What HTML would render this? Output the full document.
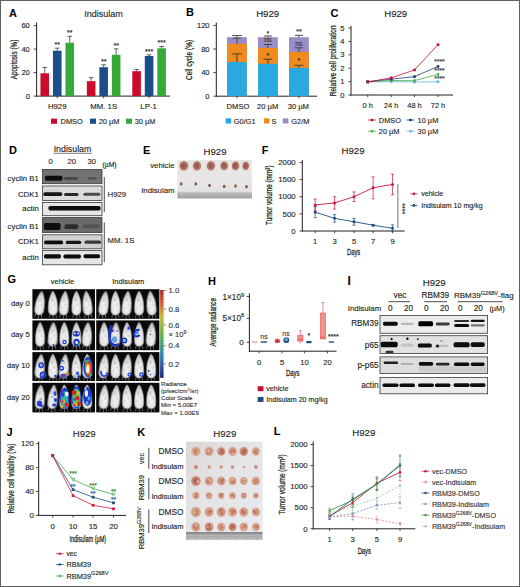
<!DOCTYPE html>
<html><head><meta charset="utf-8"><style>
html,body{margin:0;padding:0;background:#fff;width:520px;height:587px;overflow:hidden}
svg{display:block;font-family:"Liberation Sans",sans-serif}
</style></head><body>
<svg width="520" height="587" viewBox="0 0 520 587">
<defs>
<filter id="b1" x="-50%" y="-50%" width="200%" height="200%"><feGaussianBlur stdDeviation="0.75"/></filter>
<filter id="b2" x="-50%" y="-50%" width="200%" height="200%"><feGaussianBlur stdDeviation="1"/></filter>
<filter id="b3" x="-50%" y="-50%" width="200%" height="200%"><feGaussianBlur stdDeviation="0.4"/></filter>
<linearGradient id="eg" x1="0" y1="0" x2="0" y2="1"><stop offset="0" stop-color="#e6e4e4"/><stop offset="0.5" stop-color="#e8e6e6"/><stop offset="1" stop-color="#e0e0e2"/></linearGradient><linearGradient id="rg" x1="0" y1="0" x2="0" y2="1"><stop offset="0" stop-color="#cacacc"/><stop offset="0.4" stop-color="#b0b0b2"/><stop offset="1" stop-color="#9c9c9e"/></linearGradient><radialGradient id="tum" cx="0.45" cy="0.45" r="0.55"><stop offset="0" stop-color="#8e5048"/><stop offset="0.4" stop-color="#9e6454"/><stop offset="0.72" stop-color="#b48070"/><stop offset="0.88" stop-color="#d8c0b6"/><stop offset="1" stop-color="#ece6e4"/></radialGradient><radialGradient id="tum2" cx="0.5" cy="0.5" r="0.55"><stop offset="0" stop-color="#c47e66"/><stop offset="0.5" stop-color="#ce947c"/><stop offset="0.85" stop-color="#dcb4a2"/><stop offset="1" stop-color="#e6d4cc"/></radialGradient><radialGradient id="tum3" cx="0.5" cy="0.5" r="0.55"><stop offset="0" stop-color="#a85450"/><stop offset="0.5" stop-color="#bc7460"/><stop offset="0.85" stop-color="#d6a890"/><stop offset="1" stop-color="#e6d4c8"/></radialGradient><radialGradient id="mg" cx="0.5" cy="0.62" r="0.6"><stop offset="0" stop-color="#f6f6f6"/><stop offset="0.6" stop-color="#e4e4e4"/><stop offset="1" stop-color="#b0b0b0"/></radialGradient><linearGradient id="cb" x1="0" y1="0" x2="0" y2="1"><stop offset="0" stop-color="#b02828"/><stop offset="0.15" stop-color="#d06030"/><stop offset="0.3" stop-color="#c8b438"/><stop offset="0.45" stop-color="#80b840"/><stop offset="0.6" stop-color="#48a870"/><stop offset="0.75" stop-color="#3080b8"/><stop offset="0.9" stop-color="#2848a0"/><stop offset="1" stop-color="#1c1c6c"/></linearGradient><linearGradient id="kg" x1="0" y1="0" x2="1" y2="1"><stop offset="0" stop-color="#dcd6d6"/><stop offset="0.4" stop-color="#e4e4e6"/><stop offset="1" stop-color="#e8eaee"/></linearGradient>
</defs>
<rect width="520" height="587" fill="#fff"/>
<text x="9.00" y="16.60" font-size="11" text-anchor="start" fill="#000" font-weight="bold" >A</text>
<text x="103.50" y="17.00" font-size="9" text-anchor="middle" fill="#231f20" stroke="#231f20" stroke-width="0.13" >Indisulam</text>
<line x1="36.60" y1="22.50" x2="36.60" y2="96.60" stroke="#231f20" stroke-width="1" />
<line x1="36.20" y1="96.10" x2="170.00" y2="96.10" stroke="#231f20" stroke-width="1" />
<line x1="33.60" y1="96.10" x2="36.60" y2="96.10" stroke="#231f20" stroke-width="0.8" />
<text x="29.80" y="98.60" font-size="7.5" text-anchor="end" fill="#231f20" stroke="#231f20" stroke-width="0.13" >0</text>
<line x1="33.60" y1="72.60" x2="36.60" y2="72.60" stroke="#231f20" stroke-width="0.8" />
<text x="29.80" y="75.10" font-size="7.5" text-anchor="end" fill="#231f20" stroke="#231f20" stroke-width="0.13" >20</text>
<line x1="33.60" y1="49.10" x2="36.60" y2="49.10" stroke="#231f20" stroke-width="0.8" />
<text x="29.80" y="51.60" font-size="7.5" text-anchor="end" fill="#231f20" stroke="#231f20" stroke-width="0.13" >40</text>
<line x1="33.60" y1="25.60" x2="36.60" y2="25.60" stroke="#231f20" stroke-width="0.8" />
<text x="29.80" y="28.10" font-size="7.5" text-anchor="end" fill="#231f20" stroke="#231f20" stroke-width="0.13" >60</text>
<text x="16.60" y="59.50" font-size="8.8" text-anchor="middle" fill="#231f20" stroke="#231f20" stroke-width="0.26" textLength="39.5" lengthAdjust="spacingAndGlyphs" transform="rotate(-90 16.60 59.50)" >Apoptosis (%)</text>
<line x1="44.75" y1="73.30" x2="44.75" y2="67.43" stroke="#505050" stroke-width="0.9" />
<line x1="42.45" y1="67.43" x2="47.05" y2="67.43" stroke="#505050" stroke-width="0.9" />
<rect x="40.45" y="73.30" width="8.60" height="22.80" fill="#cc0a2c" />
<line x1="57.25" y1="50.74" x2="57.25" y2="48.16" stroke="#505050" stroke-width="0.9" />
<line x1="54.95" y1="48.16" x2="59.55" y2="48.16" stroke="#505050" stroke-width="0.9" />
<rect x="52.95" y="50.74" width="8.60" height="45.36" fill="#1c4f8a" />
<text x="57.25" y="46.96" font-size="7" text-anchor="middle" fill="#231f20" stroke="#231f20" stroke-width="0.13" >**</text>
<line x1="69.75" y1="42.75" x2="69.75" y2="36.29" stroke="#505050" stroke-width="0.9" />
<line x1="67.45" y1="36.29" x2="72.05" y2="36.29" stroke="#505050" stroke-width="0.9" />
<rect x="65.45" y="42.75" width="8.60" height="53.34" fill="#36a938" />
<text x="69.75" y="35.09" font-size="7" text-anchor="middle" fill="#231f20" stroke="#231f20" stroke-width="0.13" >**</text>
<line x1="57.25" y1="96.10" x2="57.25" y2="98.30" stroke="#231f20" stroke-width="0.8" />
<line x1="91.15" y1="81.18" x2="91.15" y2="77.65" stroke="#505050" stroke-width="0.9" />
<line x1="88.85" y1="77.65" x2="93.45" y2="77.65" stroke="#505050" stroke-width="0.9" />
<rect x="86.85" y="81.18" width="8.60" height="14.92" fill="#cc0a2c" />
<line x1="103.65" y1="67.19" x2="103.65" y2="64.84" stroke="#505050" stroke-width="0.9" />
<line x1="101.35" y1="64.84" x2="105.95" y2="64.84" stroke="#505050" stroke-width="0.9" />
<rect x="99.35" y="67.19" width="8.60" height="28.91" fill="#1c4f8a" />
<text x="103.65" y="63.64" font-size="7" text-anchor="middle" fill="#231f20" stroke="#231f20" stroke-width="0.13" >**</text>
<line x1="116.15" y1="54.74" x2="116.15" y2="48.86" stroke="#505050" stroke-width="0.9" />
<line x1="113.85" y1="48.86" x2="118.45" y2="48.86" stroke="#505050" stroke-width="0.9" />
<rect x="111.85" y="54.74" width="8.60" height="41.36" fill="#36a938" />
<text x="116.15" y="47.66" font-size="7" text-anchor="middle" fill="#231f20" stroke="#231f20" stroke-width="0.13" >**</text>
<line x1="103.65" y1="96.10" x2="103.65" y2="98.30" stroke="#231f20" stroke-width="0.8" />
<line x1="136.60" y1="71.19" x2="136.60" y2="69.43" stroke="#505050" stroke-width="0.9" />
<line x1="134.30" y1="69.43" x2="138.90" y2="69.43" stroke="#505050" stroke-width="0.9" />
<rect x="132.30" y="71.19" width="8.60" height="24.91" fill="#cc0a2c" />
<line x1="149.10" y1="56.03" x2="149.10" y2="54.86" stroke="#505050" stroke-width="0.9" />
<line x1="146.80" y1="54.86" x2="151.40" y2="54.86" stroke="#505050" stroke-width="0.9" />
<rect x="144.80" y="56.03" width="8.60" height="40.07" fill="#1c4f8a" />
<text x="149.10" y="53.66" font-size="7" text-anchor="middle" fill="#231f20" stroke="#231f20" stroke-width="0.13" >***</text>
<line x1="161.60" y1="48.28" x2="161.60" y2="46.51" stroke="#505050" stroke-width="0.9" />
<line x1="159.30" y1="46.51" x2="163.90" y2="46.51" stroke="#505050" stroke-width="0.9" />
<rect x="157.30" y="48.28" width="8.60" height="47.82" fill="#36a938" />
<text x="161.60" y="45.31" font-size="7" text-anchor="middle" fill="#231f20" stroke="#231f20" stroke-width="0.13" >***</text>
<line x1="149.10" y1="96.10" x2="149.10" y2="98.30" stroke="#231f20" stroke-width="0.8" />
<text x="57.20" y="108.50" font-size="7.8" text-anchor="middle" fill="#231f20" stroke="#231f20" stroke-width="0.13" >H929</text>
<text x="103.70" y="108.50" font-size="7.8" text-anchor="middle" fill="#231f20" stroke="#231f20" stroke-width="0.13" >MM. 1S</text>
<text x="148.60" y="108.50" font-size="7.8" text-anchor="middle" fill="#231f20" stroke="#231f20" stroke-width="0.13" >LP-1</text>
<rect x="51.00" y="118.60" width="6.00" height="5.20" fill="#cc0a2c" />
<text x="60.60" y="123.80" font-size="7.4" text-anchor="start" fill="#231f20" stroke="#231f20" stroke-width="0.13" >DMSO</text>
<rect x="90.00" y="118.60" width="6.00" height="5.20" fill="#1c4f8a" />
<text x="98.70" y="123.80" font-size="7.4" text-anchor="start" fill="#231f20" stroke="#231f20" stroke-width="0.13" >20 µM</text>
<rect x="126.00" y="118.60" width="6.00" height="5.20" fill="#36a938" />
<text x="134.70" y="123.80" font-size="7.4" text-anchor="start" fill="#231f20" stroke="#231f20" stroke-width="0.13" >30 µM</text>
<text x="185.90" y="16.40" font-size="11" text-anchor="start" fill="#000" font-weight="bold" >B</text>
<text x="267.60" y="16.80" font-size="9.6" text-anchor="middle" fill="#231f20" stroke="#231f20" stroke-width="0.13" >H929</text>
<line x1="216.30" y1="22.50" x2="216.30" y2="96.70" stroke="#231f20" stroke-width="1" />
<line x1="215.90" y1="96.20" x2="317.00" y2="96.20" stroke="#231f20" stroke-width="1" />
<line x1="213.30" y1="96.20" x2="216.30" y2="96.20" stroke="#231f20" stroke-width="0.8" />
<text x="209.50" y="98.70" font-size="7.5" text-anchor="end" fill="#231f20" stroke="#231f20" stroke-width="0.13" >0</text>
<line x1="213.30" y1="72.60" x2="216.30" y2="72.60" stroke="#231f20" stroke-width="0.8" />
<text x="209.50" y="75.10" font-size="7.5" text-anchor="end" fill="#231f20" stroke="#231f20" stroke-width="0.13" >40</text>
<line x1="213.30" y1="49.00" x2="216.30" y2="49.00" stroke="#231f20" stroke-width="0.8" />
<text x="209.50" y="51.50" font-size="7.5" text-anchor="end" fill="#231f20" stroke="#231f20" stroke-width="0.13" >80</text>
<line x1="213.30" y1="25.40" x2="216.30" y2="25.40" stroke="#231f20" stroke-width="0.8" />
<text x="209.50" y="27.90" font-size="7.5" text-anchor="end" fill="#231f20" stroke="#231f20" stroke-width="0.13" >120</text>
<text x="191.80" y="59.90" font-size="8.8" text-anchor="middle" fill="#231f20" stroke="#231f20" stroke-width="0.26" textLength="40.2" lengthAdjust="spacingAndGlyphs" transform="rotate(-90 191.80 59.90)" >Cell cycle (%)</text>
<rect x="227.00" y="37.20" width="19.80" height="59.00" fill="#9a8cc6" />
<rect x="227.00" y="43.69" width="19.80" height="52.51" fill="#f08a1d" />
<rect x="227.00" y="61.98" width="19.80" height="34.22" fill="#2aa8e0" />
<line x1="236.90" y1="96.20" x2="236.90" y2="98.40" stroke="#231f20" stroke-width="0.8" />
<rect x="258.00" y="37.20" width="19.80" height="59.00" fill="#9a8cc6" />
<rect x="258.00" y="47.82" width="19.80" height="48.38" fill="#f08a1d" />
<rect x="258.00" y="63.75" width="19.80" height="32.45" fill="#2aa8e0" />
<line x1="267.90" y1="96.20" x2="267.90" y2="98.40" stroke="#231f20" stroke-width="0.8" />
<rect x="289.00" y="37.20" width="19.80" height="59.00" fill="#9a8cc6" />
<rect x="289.00" y="51.95" width="19.80" height="44.25" fill="#f08a1d" />
<rect x="289.00" y="67.88" width="19.80" height="28.32" fill="#2aa8e0" />
<line x1="298.90" y1="96.20" x2="298.90" y2="98.40" stroke="#231f20" stroke-width="0.8" />
<line x1="236.90" y1="61.98" x2="236.90" y2="53.90" stroke="#3a3a3a" stroke-width="0.9" />
<line x1="231.90" y1="53.90" x2="241.90" y2="53.90" stroke="#3a3a3a" stroke-width="0.9" />
<line x1="236.90" y1="43.69" x2="236.90" y2="38.20" stroke="#3a3a3a" stroke-width="0.9" />
<line x1="232.90" y1="38.20" x2="240.90" y2="38.20" stroke="#3a3a3a" stroke-width="0.9" />
<line x1="236.90" y1="37.20" x2="236.90" y2="35.60" stroke="#3a3a3a" stroke-width="0.9" />
<line x1="231.90" y1="35.60" x2="241.90" y2="35.60" stroke="#3a3a3a" stroke-width="0.9" />
<line x1="267.90" y1="63.75" x2="267.90" y2="59.20" stroke="#3a3a3a" stroke-width="0.9" />
<line x1="263.40" y1="59.20" x2="272.40" y2="59.20" stroke="#3a3a3a" stroke-width="0.9" />
<line x1="267.90" y1="47.82" x2="267.90" y2="44.50" stroke="#3a3a3a" stroke-width="0.9" />
<line x1="263.90" y1="44.50" x2="271.90" y2="44.50" stroke="#3a3a3a" stroke-width="0.9" />
<line x1="267.90" y1="37.20" x2="267.90" y2="36.00" stroke="#3a3a3a" stroke-width="0.9" />
<line x1="263.90" y1="36.00" x2="271.90" y2="36.00" stroke="#3a3a3a" stroke-width="0.9" />
<line x1="298.90" y1="67.88" x2="298.90" y2="65.30" stroke="#3a3a3a" stroke-width="0.9" />
<line x1="294.40" y1="65.30" x2="303.40" y2="65.30" stroke="#3a3a3a" stroke-width="0.9" />
<line x1="298.90" y1="51.95" x2="298.90" y2="47.80" stroke="#3a3a3a" stroke-width="0.9" />
<line x1="294.90" y1="47.80" x2="302.90" y2="47.80" stroke="#3a3a3a" stroke-width="0.9" />
<line x1="298.90" y1="37.20" x2="298.90" y2="35.30" stroke="#3a3a3a" stroke-width="0.9" />
<line x1="294.90" y1="35.30" x2="302.90" y2="35.30" stroke="#3a3a3a" stroke-width="0.9" />
<text x="267.90" y="35.50" font-size="7" text-anchor="middle" fill="#231f20" stroke="#231f20" stroke-width="0.13" >*</text>
<text x="298.90" y="33.80" font-size="7" text-anchor="middle" fill="#231f20" stroke="#231f20" stroke-width="0.13" >**</text>
<text x="267.90" y="42.00" font-size="7" text-anchor="middle" fill="#333" stroke="#333" stroke-width="0.13" >ns</text>
<text x="298.90" y="46.20" font-size="7" text-anchor="middle" fill="#333" stroke="#333" stroke-width="0.13" >ns</text>
<text x="267.90" y="57.80" font-size="7" text-anchor="middle" fill="#231f20" stroke="#231f20" stroke-width="0.13" >*</text>
<text x="298.90" y="63.20" font-size="7" text-anchor="middle" fill="#231f20" stroke="#231f20" stroke-width="0.13" >*</text>
<text x="238.00" y="109.30" font-size="7.6" text-anchor="middle" fill="#231f20" stroke="#231f20" stroke-width="0.13" >DMSO</text>
<text x="267.70" y="109.30" font-size="7.6" text-anchor="middle" fill="#231f20" stroke="#231f20" stroke-width="0.13" >20 µM</text>
<text x="298.30" y="109.30" font-size="7.6" text-anchor="middle" fill="#231f20" stroke="#231f20" stroke-width="0.13" >30 µM</text>
<rect x="225.60" y="118.30" width="5.60" height="5.20" fill="#2aa8e0" />
<text x="233.80" y="123.60" font-size="7.4" text-anchor="start" fill="#231f20" stroke="#231f20" stroke-width="0.13" >G0/G1</text>
<rect x="263.90" y="118.30" width="5.60" height="5.20" fill="#f08a1d" />
<text x="271.40" y="123.60" font-size="7.4" text-anchor="start" fill="#231f20" stroke="#231f20" stroke-width="0.13" >S</text>
<rect x="282.80" y="118.30" width="5.60" height="5.20" fill="#9a8cc6" />
<text x="291.30" y="123.60" font-size="7.4" text-anchor="start" fill="#231f20" stroke="#231f20" stroke-width="0.13" >G2/M</text>
<text x="330.60" y="16.60" font-size="11" text-anchor="start" fill="#000" font-weight="bold" >C</text>
<text x="395.70" y="16.80" font-size="9.6" text-anchor="middle" fill="#231f20" stroke="#231f20" stroke-width="0.13" >H929</text>
<line x1="351.00" y1="26.00" x2="351.00" y2="95.50" stroke="#231f20" stroke-width="1" />
<line x1="350.60" y1="95.00" x2="453.00" y2="95.00" stroke="#231f20" stroke-width="1" />
<line x1="348.40" y1="95.00" x2="351.00" y2="95.00" stroke="#231f20" stroke-width="0.8" />
<text x="344.60" y="97.60" font-size="7.6" text-anchor="end" fill="#231f20" stroke="#231f20" stroke-width="0.13" >0</text>
<line x1="348.40" y1="81.60" x2="351.00" y2="81.60" stroke="#231f20" stroke-width="0.8" />
<text x="344.60" y="84.20" font-size="7.6" text-anchor="end" fill="#231f20" stroke="#231f20" stroke-width="0.13" >1</text>
<line x1="348.40" y1="68.20" x2="351.00" y2="68.20" stroke="#231f20" stroke-width="0.8" />
<text x="344.60" y="70.80" font-size="7.6" text-anchor="end" fill="#231f20" stroke="#231f20" stroke-width="0.13" >2</text>
<line x1="348.40" y1="54.80" x2="351.00" y2="54.80" stroke="#231f20" stroke-width="0.8" />
<text x="344.60" y="57.40" font-size="7.6" text-anchor="end" fill="#231f20" stroke="#231f20" stroke-width="0.13" >3</text>
<line x1="348.40" y1="41.40" x2="351.00" y2="41.40" stroke="#231f20" stroke-width="0.8" />
<text x="344.60" y="44.00" font-size="7.6" text-anchor="end" fill="#231f20" stroke="#231f20" stroke-width="0.13" >4</text>
<line x1="348.40" y1="28.00" x2="351.00" y2="28.00" stroke="#231f20" stroke-width="0.8" />
<text x="344.60" y="30.60" font-size="7.6" text-anchor="end" fill="#231f20" stroke="#231f20" stroke-width="0.13" >5</text>
<text x="336.50" y="60.80" font-size="8.4" text-anchor="middle" fill="#231f20" stroke="#231f20" stroke-width="0.26" textLength="70.8" lengthAdjust="spacingAndGlyphs" transform="rotate(-90 336.50 60.80)" >Relative cell proliferation</text>
<line x1="367.70" y1="95.00" x2="367.70" y2="97.20" stroke="#231f20" stroke-width="0.8" />
<text x="367.70" y="108.20" font-size="7.4" text-anchor="middle" fill="#231f20" stroke="#231f20" stroke-width="0.13" >0 h</text>
<line x1="391.20" y1="95.00" x2="391.20" y2="97.20" stroke="#231f20" stroke-width="0.8" />
<text x="391.20" y="108.20" font-size="7.4" text-anchor="middle" fill="#231f20" stroke="#231f20" stroke-width="0.13" >24 h</text>
<line x1="414.50" y1="95.00" x2="414.50" y2="97.20" stroke="#231f20" stroke-width="0.8" />
<text x="414.50" y="108.20" font-size="7.4" text-anchor="middle" fill="#231f20" stroke="#231f20" stroke-width="0.13" >48 h</text>
<line x1="438.00" y1="95.00" x2="438.00" y2="97.20" stroke="#231f20" stroke-width="0.8" />
<text x="438.00" y="108.20" font-size="7.4" text-anchor="middle" fill="#231f20" stroke="#231f20" stroke-width="0.13" >72 h</text>
<polyline points="367.70,82.00 391.20,81.60 414.50,82.00 438.00,81.73" fill="none" stroke="#5fb6e0" stroke-width="0.8" />
<rect x="366.40" y="80.70" width="2.60" height="2.60" fill="#5fb6e0" />
<rect x="389.90" y="80.30" width="2.60" height="2.60" fill="#5fb6e0" />
<rect x="413.20" y="80.70" width="2.60" height="2.60" fill="#5fb6e0" />
<rect x="436.70" y="80.43" width="2.60" height="2.60" fill="#5fb6e0" />
<polyline points="367.70,81.87 391.20,80.53 414.50,80.66 438.00,74.36" fill="none" stroke="#48b048" stroke-width="0.8" />
<rect x="366.40" y="80.57" width="2.60" height="2.60" fill="#48b048" />
<rect x="389.90" y="79.23" width="2.60" height="2.60" fill="#48b048" />
<rect x="413.20" y="79.36" width="2.60" height="2.60" fill="#48b048" />
<rect x="436.70" y="73.06" width="2.60" height="2.60" fill="#48b048" />
<polyline points="367.70,81.60 391.20,79.19 414.50,76.64 438.00,66.46" fill="none" stroke="#1c3f70" stroke-width="0.8" />
<rect x="366.40" y="80.30" width="2.60" height="2.60" fill="#1c3f70" />
<rect x="389.90" y="77.89" width="2.60" height="2.60" fill="#1c3f70" />
<rect x="413.20" y="75.34" width="2.60" height="2.60" fill="#1c3f70" />
<rect x="436.70" y="65.16" width="2.60" height="2.60" fill="#1c3f70" />
<polyline points="367.70,82.00 391.20,77.85 414.50,69.94 438.00,44.75" fill="none" stroke="#cc0a2c" stroke-width="0.8" />
<rect x="366.40" y="80.70" width="2.60" height="2.60" fill="#cc0a2c" />
<rect x="389.90" y="76.55" width="2.60" height="2.60" fill="#cc0a2c" />
<rect x="413.20" y="68.64" width="2.60" height="2.60" fill="#cc0a2c" />
<rect x="436.70" y="43.45" width="2.60" height="2.60" fill="#cc0a2c" />
<text x="439.50" y="64.40" font-size="6.6" text-anchor="middle" fill="#22304a" stroke="#22304a" stroke-width="0.13" >****</text>
<text x="439.50" y="73.20" font-size="6.6" text-anchor="middle" fill="#22304a" stroke="#22304a" stroke-width="0.13" >****</text>
<text x="439.50" y="81.40" font-size="6.6" text-anchor="middle" fill="#22304a" stroke="#22304a" stroke-width="0.13" >****</text>
<line x1="368.00" y1="120.00" x2="376.00" y2="120.00" stroke="#cc0a2c" stroke-width="0.8" />
<rect x="370.80" y="118.80" width="2.40" height="2.40" fill="#cc0a2c" />
<text x="378.80" y="122.70" font-size="7.4" text-anchor="start" fill="#231f20" stroke="#231f20" stroke-width="0.13" >DMSO</text>
<line x1="406.50" y1="120.00" x2="414.60" y2="120.00" stroke="#1c3f70" stroke-width="0.8" />
<rect x="409.30" y="118.80" width="2.40" height="2.40" fill="#1c3f70" />
<text x="417.60" y="122.70" font-size="7.4" text-anchor="start" fill="#231f20" stroke="#231f20" stroke-width="0.13" >10 µM</text>
<line x1="368.00" y1="131.20" x2="376.00" y2="131.20" stroke="#48b048" stroke-width="0.8" />
<rect x="370.80" y="130.00" width="2.40" height="2.40" fill="#48b048" />
<text x="378.80" y="133.90" font-size="7.4" text-anchor="start" fill="#231f20" stroke="#231f20" stroke-width="0.13" >20 µM</text>
<line x1="406.50" y1="131.20" x2="414.60" y2="131.20" stroke="#5fb6e0" stroke-width="0.8" />
<rect x="409.30" y="130.00" width="2.40" height="2.40" fill="#5fb6e0" />
<text x="417.60" y="133.90" font-size="7.4" text-anchor="start" fill="#231f20" stroke="#231f20" stroke-width="0.13" >30 µM</text>
<text x="9.00" y="153.70" font-size="11" text-anchor="start" fill="#000" font-weight="bold" >D</text>
<text x="72.50" y="152.40" font-size="8.8" text-anchor="middle" fill="#231f20" stroke="#231f20" stroke-width="0.13" >Indisulam</text>
<line x1="53.50" y1="153.30" x2="91.80" y2="153.30" stroke="#444" stroke-width="0.7" />
<text x="50.60" y="163.60" font-size="7.6" text-anchor="middle" fill="#231f20" stroke="#231f20" stroke-width="0.13" >0</text>
<text x="71.80" y="163.60" font-size="7.6" text-anchor="middle" fill="#231f20" stroke="#231f20" stroke-width="0.13" >20</text>
<text x="91.80" y="163.60" font-size="7.6" text-anchor="middle" fill="#231f20" stroke="#231f20" stroke-width="0.13" >30</text>
<text x="102.60" y="167.20" font-size="6.8" text-anchor="start" fill="#231f20" stroke="#231f20" stroke-width="0.15" textLength="14" lengthAdjust="spacingAndGlyphs" >(µM)</text>
<rect x="42.50" y="169.50" width="59.50" height="14.20" fill="#727272" stroke="#3a3a3a" stroke-width="0.8"/>
<rect x="44.95" y="175.70" width="17.50" height="5.00" rx="1.60" fill="#0e0e0e" opacity="1" filter="url(#b1)"/>
<rect x="64.00" y="177.10" width="14.00" height="2.80" rx="1.40" fill="#404040" opacity="0.8" filter="url(#b1)"/>
<rect x="87.70" y="177.20" width="9.00" height="2.40" rx="1.20" fill="#404040" opacity="0.7" filter="url(#b1)"/>
<rect x="42.50" y="186.00" width="59.50" height="14.50" fill="#dcdcdc" stroke="#3a3a3a" stroke-width="0.8"/>
<rect x="43.30" y="192.30" width="19.00" height="3.60" rx="1.60" fill="#121212" opacity="1" filter="url(#b1)"/>
<rect x="64.05" y="192.90" width="14.50" height="3.00" rx="1.50" fill="#222" opacity="0.95" filter="url(#b1)"/>
<rect x="83.30" y="192.80" width="17.00" height="3.00" rx="1.50" fill="#333" opacity="0.85" filter="url(#b1)"/>
<rect x="45.00" y="189.30" width="16.00" height="2.40" rx="1.20" fill="#c8c8c8" opacity="0.5" filter="url(#b1)"/>
<rect x="42.50" y="202.50" width="59.50" height="13.20" fill="#e6e6e6" stroke="#3a3a3a" stroke-width="0.8"/>
<rect x="48.50" y="206.00" width="52.00" height="4.40" rx="1.60" fill="#0c0c0c" opacity="1" filter="url(#b1)"/>
<rect x="42.50" y="217.60" width="59.50" height="15.00" fill="#6a6a6a" stroke="#3a3a3a" stroke-width="0.8"/>
<rect x="43.95" y="222.90" width="16.50" height="7.00" rx="1.60" fill="#080808" opacity="1" filter="url(#b1)"/>
<rect x="64.55" y="224.20" width="13.50" height="4.80" rx="1.60" fill="#262626" opacity="0.9" filter="url(#b1)"/>
<rect x="82.50" y="224.60" width="17.00" height="3.60" rx="1.60" fill="#444" opacity="0.6" filter="url(#b1)"/>
<rect x="42.50" y="234.80" width="59.50" height="14.00" fill="#d0d0d0" stroke="#3a3a3a" stroke-width="0.8"/>
<rect x="44.10" y="240.50" width="19.00" height="3.80" rx="1.60" fill="#0e0e0e" opacity="1" filter="url(#b1)"/>
<rect x="65.75" y="240.70" width="15.50" height="3.40" rx="1.60" fill="#161616" opacity="1" filter="url(#b1)"/>
<rect x="84.55" y="240.60" width="16.50" height="3.20" rx="1.60" fill="#2a2a2a" opacity="0.9" filter="url(#b1)"/>
<rect x="42.50" y="250.60" width="59.50" height="14.20" fill="#e6e6e6" stroke="#3a3a3a" stroke-width="0.8"/>
<rect x="44.00" y="254.20" width="17.00" height="4.20" rx="1.60" fill="#0a0a0a" opacity="1" filter="url(#b1)"/>
<rect x="63.45" y="254.40" width="17.50" height="4.00" rx="1.60" fill="#0a0a0a" opacity="1" filter="url(#b1)"/>
<rect x="83.55" y="254.20" width="16.50" height="4.00" rx="1.60" fill="#0a0a0a" opacity="1" filter="url(#b1)"/>
<text x="38.80" y="181.40" font-size="7.8" text-anchor="end" fill="#231f20" stroke="#231f20" stroke-width="0.13" >cyclin B1</text>
<text x="38.80" y="196.80" font-size="7.8" text-anchor="end" fill="#231f20" stroke="#231f20" stroke-width="0.13" >CDK1</text>
<text x="38.80" y="211.40" font-size="7.8" text-anchor="end" fill="#231f20" stroke="#231f20" stroke-width="0.13" >actin</text>
<text x="38.80" y="228.60" font-size="7.8" text-anchor="end" fill="#231f20" stroke="#231f20" stroke-width="0.13" >cyclin B1</text>
<text x="38.80" y="244.10" font-size="7.8" text-anchor="end" fill="#231f20" stroke="#231f20" stroke-width="0.13" >CDK1</text>
<text x="38.80" y="260.10" font-size="7.8" text-anchor="end" fill="#231f20" stroke="#231f20" stroke-width="0.13" >actin</text>
<line x1="104.30" y1="177.00" x2="104.30" y2="212.00" stroke="#231f20" stroke-width="0.8" />
<line x1="104.30" y1="222.50" x2="104.30" y2="262.00" stroke="#231f20" stroke-width="0.8" />
<text x="107.50" y="197.00" font-size="7.8" text-anchor="start" fill="#231f20" stroke="#231f20" stroke-width="0.13" >H929</text>
<text x="107.50" y="242.70" font-size="7.8" text-anchor="start" fill="#231f20" stroke="#231f20" stroke-width="0.13" >MM. 1S</text>
<text x="143.00" y="153.70" font-size="11" text-anchor="start" fill="#000" font-weight="bold" >E</text>
<text x="215.00" y="155.00" font-size="9.6" text-anchor="middle" fill="#231f20" stroke="#231f20" stroke-width="0.13" >H929</text>
<text x="174.50" y="167.80" font-size="7.8" text-anchor="end" fill="#231f20" stroke="#231f20" stroke-width="0.13" >vehicle</text>
<text x="174.50" y="192.80" font-size="7.8" text-anchor="end" fill="#231f20" stroke="#231f20" stroke-width="0.13" >Indisulam</text>
<rect x="177.40" y="160.00" width="74.60" height="38.20" fill="url(#eg)" />
<rect x="177.40" y="191.80" width="74.60" height="6.60" fill="url(#rg)" />
<line x1="178.50" y1="193.50" x2="178.50" y2="198.00" stroke="#c4c4c4" stroke-width="0.3" />
<line x1="181.20" y1="193.50" x2="181.20" y2="198.00" stroke="#c4c4c4" stroke-width="0.3" />
<line x1="183.90" y1="193.50" x2="183.90" y2="198.00" stroke="#c4c4c4" stroke-width="0.3" />
<line x1="186.60" y1="193.50" x2="186.60" y2="198.00" stroke="#c4c4c4" stroke-width="0.3" />
<line x1="189.30" y1="193.50" x2="189.30" y2="198.00" stroke="#c4c4c4" stroke-width="0.3" />
<line x1="192.00" y1="193.50" x2="192.00" y2="198.00" stroke="#c4c4c4" stroke-width="0.3" />
<line x1="194.70" y1="193.50" x2="194.70" y2="198.00" stroke="#c4c4c4" stroke-width="0.3" />
<line x1="197.40" y1="193.50" x2="197.40" y2="198.00" stroke="#c4c4c4" stroke-width="0.3" />
<line x1="200.10" y1="193.50" x2="200.10" y2="198.00" stroke="#c4c4c4" stroke-width="0.3" />
<line x1="202.80" y1="193.50" x2="202.80" y2="198.00" stroke="#c4c4c4" stroke-width="0.3" />
<line x1="205.50" y1="193.50" x2="205.50" y2="198.00" stroke="#c4c4c4" stroke-width="0.3" />
<line x1="208.20" y1="193.50" x2="208.20" y2="198.00" stroke="#c4c4c4" stroke-width="0.3" />
<line x1="210.90" y1="193.50" x2="210.90" y2="198.00" stroke="#c4c4c4" stroke-width="0.3" />
<line x1="213.60" y1="193.50" x2="213.60" y2="198.00" stroke="#c4c4c4" stroke-width="0.3" />
<line x1="216.30" y1="193.50" x2="216.30" y2="198.00" stroke="#c4c4c4" stroke-width="0.3" />
<line x1="219.00" y1="193.50" x2="219.00" y2="198.00" stroke="#c4c4c4" stroke-width="0.3" />
<line x1="221.70" y1="193.50" x2="221.70" y2="198.00" stroke="#c4c4c4" stroke-width="0.3" />
<line x1="224.40" y1="193.50" x2="224.40" y2="198.00" stroke="#c4c4c4" stroke-width="0.3" />
<line x1="227.10" y1="193.50" x2="227.10" y2="198.00" stroke="#c4c4c4" stroke-width="0.3" />
<line x1="229.80" y1="193.50" x2="229.80" y2="198.00" stroke="#c4c4c4" stroke-width="0.3" />
<line x1="232.50" y1="193.50" x2="232.50" y2="198.00" stroke="#c4c4c4" stroke-width="0.3" />
<line x1="235.20" y1="193.50" x2="235.20" y2="198.00" stroke="#c4c4c4" stroke-width="0.3" />
<line x1="237.90" y1="193.50" x2="237.90" y2="198.00" stroke="#c4c4c4" stroke-width="0.3" />
<line x1="240.60" y1="193.50" x2="240.60" y2="198.00" stroke="#c4c4c4" stroke-width="0.3" />
<line x1="243.30" y1="193.50" x2="243.30" y2="198.00" stroke="#c4c4c4" stroke-width="0.3" />
<line x1="246.00" y1="193.50" x2="246.00" y2="198.00" stroke="#c4c4c4" stroke-width="0.3" />
<line x1="248.70" y1="193.50" x2="248.70" y2="198.00" stroke="#c4c4c4" stroke-width="0.3" />
<line x1="251.40" y1="193.50" x2="251.40" y2="198.00" stroke="#c4c4c4" stroke-width="0.3" />
<ellipse cx="184.20" cy="166.20" rx="4.90" ry="5.30" fill="url(#tum)" filter="url(#b3)"/>
<ellipse cx="197.30" cy="166.20" rx="4.60" ry="5.20" fill="url(#tum)" filter="url(#b3)"/>
<ellipse cx="211.20" cy="166.20" rx="4.70" ry="5.10" fill="url(#tum)" filter="url(#b3)"/>
<ellipse cx="224.50" cy="166.20" rx="4.30" ry="4.90" fill="url(#tum)" filter="url(#b3)"/>
<ellipse cx="235.80" cy="166.20" rx="4.20" ry="5.00" fill="url(#tum)" filter="url(#b3)"/>
<ellipse cx="246.00" cy="166.20" rx="3.80" ry="4.80" fill="url(#tum)" filter="url(#b3)"/>
<ellipse cx="181.20" cy="183.90" rx="2.60" ry="2.80" fill="#ece4e0" filter="url(#b3)"/>
<ellipse cx="181.20" cy="183.90" rx="1.40" ry="1.70" fill="#7a6050" filter="url(#b3)"/>
<ellipse cx="195.80" cy="183.90" rx="2.60" ry="2.80" fill="#ece4e0" filter="url(#b3)"/>
<ellipse cx="195.80" cy="183.90" rx="1.40" ry="1.70" fill="#7a6050" filter="url(#b3)"/>
<ellipse cx="209.60" cy="185.50" rx="2.60" ry="2.80" fill="#ece4e0" filter="url(#b3)"/>
<ellipse cx="209.60" cy="185.50" rx="1.40" ry="1.70" fill="#7a6050" filter="url(#b3)"/>
<ellipse cx="224.20" cy="186.50" rx="2.60" ry="2.80" fill="#ece4e0" filter="url(#b3)"/>
<ellipse cx="224.20" cy="186.50" rx="1.40" ry="1.70" fill="#7a6050" filter="url(#b3)"/>
<ellipse cx="235.50" cy="186.00" rx="2.60" ry="2.80" fill="#ece4e0" filter="url(#b3)"/>
<ellipse cx="235.50" cy="186.00" rx="1.40" ry="1.70" fill="#7a6050" filter="url(#b3)"/>
<ellipse cx="246.50" cy="186.80" rx="2.60" ry="2.80" fill="#ece4e0" filter="url(#b3)"/>
<ellipse cx="246.50" cy="186.80" rx="1.40" ry="1.70" fill="#7a6050" filter="url(#b3)"/>
<text x="261.70" y="154.00" font-size="11" text-anchor="start" fill="#000" font-weight="bold" >F</text>
<text x="353.00" y="154.00" font-size="9.6" text-anchor="middle" fill="#231f20" stroke="#231f20" stroke-width="0.13" >H929</text>
<line x1="302.30" y1="160.00" x2="302.30" y2="231.50" stroke="#231f20" stroke-width="1" />
<line x1="301.90" y1="231.00" x2="404.60" y2="231.00" stroke="#231f20" stroke-width="1" />
<line x1="299.50" y1="231.00" x2="302.30" y2="231.00" stroke="#231f20" stroke-width="0.8" />
<text x="295.60" y="233.70" font-size="7.8" text-anchor="end" fill="#231f20" stroke="#231f20" stroke-width="0.13" >0</text>
<line x1="299.50" y1="213.88" x2="302.30" y2="213.88" stroke="#231f20" stroke-width="0.8" />
<text x="295.60" y="216.57" font-size="7.8" text-anchor="end" fill="#231f20" stroke="#231f20" stroke-width="0.13" >500</text>
<line x1="299.50" y1="196.75" x2="302.30" y2="196.75" stroke="#231f20" stroke-width="0.8" />
<text x="295.60" y="199.45" font-size="7.8" text-anchor="end" fill="#231f20" stroke="#231f20" stroke-width="0.13" >1000</text>
<line x1="299.50" y1="179.62" x2="302.30" y2="179.62" stroke="#231f20" stroke-width="0.8" />
<text x="295.60" y="182.32" font-size="7.8" text-anchor="end" fill="#231f20" stroke="#231f20" stroke-width="0.13" >1500</text>
<line x1="299.50" y1="162.50" x2="302.30" y2="162.50" stroke="#231f20" stroke-width="0.8" />
<text x="295.60" y="165.20" font-size="7.8" text-anchor="end" fill="#231f20" stroke="#231f20" stroke-width="0.13" >2000</text>
<line x1="315.20" y1="231.00" x2="315.20" y2="233.20" stroke="#231f20" stroke-width="0.8" />
<text x="315.20" y="243.80" font-size="7.6" text-anchor="middle" fill="#231f20" stroke="#231f20" stroke-width="0.13" >1</text>
<line x1="334.60" y1="231.00" x2="334.60" y2="233.20" stroke="#231f20" stroke-width="0.8" />
<text x="334.60" y="243.80" font-size="7.6" text-anchor="middle" fill="#231f20" stroke="#231f20" stroke-width="0.13" >3</text>
<line x1="354.00" y1="231.00" x2="354.00" y2="233.20" stroke="#231f20" stroke-width="0.8" />
<text x="354.00" y="243.80" font-size="7.6" text-anchor="middle" fill="#231f20" stroke="#231f20" stroke-width="0.13" >5</text>
<line x1="373.10" y1="231.00" x2="373.10" y2="233.20" stroke="#231f20" stroke-width="0.8" />
<text x="373.10" y="243.80" font-size="7.6" text-anchor="middle" fill="#231f20" stroke="#231f20" stroke-width="0.13" >7</text>
<line x1="392.50" y1="231.00" x2="392.50" y2="233.20" stroke="#231f20" stroke-width="0.8" />
<text x="392.50" y="243.80" font-size="7.6" text-anchor="middle" fill="#231f20" stroke="#231f20" stroke-width="0.13" >9</text>
<text x="353.60" y="254.60" font-size="9.4" text-anchor="middle" fill="#231f20" stroke="#231f20" stroke-width="0.26" textLength="13.2" lengthAdjust="spacingAndGlyphs" >Days</text>
<text x="272.20" y="195.20" font-size="8.8" text-anchor="middle" fill="#231f20" stroke="#231f20" stroke-width="0.26" textLength="59.5" lengthAdjust="spacingAndGlyphs" transform="rotate(-90 272.20 195.20)" >Tumor volume (mm³)</text>
<line x1="315.20" y1="210.79" x2="315.20" y2="199.15" stroke="#c8193c" stroke-width="0.7" />
<line x1="313.60" y1="210.79" x2="316.80" y2="210.79" stroke="#c8193c" stroke-width="0.7" />
<line x1="313.60" y1="199.15" x2="316.80" y2="199.15" stroke="#c8193c" stroke-width="0.7" />
<line x1="334.60" y1="209.08" x2="334.60" y2="196.75" stroke="#c8193c" stroke-width="0.7" />
<line x1="333.00" y1="209.08" x2="336.20" y2="209.08" stroke="#c8193c" stroke-width="0.7" />
<line x1="333.00" y1="196.75" x2="336.20" y2="196.75" stroke="#c8193c" stroke-width="0.7" />
<line x1="354.00" y1="201.54" x2="354.00" y2="191.95" stroke="#c8193c" stroke-width="0.7" />
<line x1="352.40" y1="201.54" x2="355.60" y2="201.54" stroke="#c8193c" stroke-width="0.7" />
<line x1="352.40" y1="191.95" x2="355.60" y2="191.95" stroke="#c8193c" stroke-width="0.7" />
<line x1="373.10" y1="198.81" x2="373.10" y2="176.88" stroke="#c8193c" stroke-width="0.7" />
<line x1="371.50" y1="198.81" x2="374.70" y2="198.81" stroke="#c8193c" stroke-width="0.7" />
<line x1="371.50" y1="176.88" x2="374.70" y2="176.88" stroke="#c8193c" stroke-width="0.7" />
<line x1="392.50" y1="194.69" x2="392.50" y2="174.14" stroke="#c8193c" stroke-width="0.7" />
<line x1="390.90" y1="194.69" x2="394.10" y2="194.69" stroke="#c8193c" stroke-width="0.7" />
<line x1="390.90" y1="174.14" x2="394.10" y2="174.14" stroke="#c8193c" stroke-width="0.7" />
<polyline points="315.20,204.97 334.60,202.91 354.00,196.75 373.10,187.84 392.50,184.42" fill="none" stroke="#c8193c" stroke-width="0.9" />
<circle cx="315.20" cy="204.97" r="1.50" fill="#c8193c" />
<circle cx="334.60" cy="202.91" r="1.50" fill="#c8193c" />
<circle cx="354.00" cy="196.75" r="1.50" fill="#c8193c" />
<circle cx="373.10" cy="187.84" r="1.50" fill="#c8193c" />
<circle cx="392.50" cy="184.42" r="1.50" fill="#c8193c" />
<line x1="315.20" y1="217.64" x2="315.20" y2="206.68" stroke="#1f4f80" stroke-width="0.7" />
<line x1="313.60" y1="217.64" x2="316.80" y2="217.64" stroke="#1f4f80" stroke-width="0.7" />
<line x1="313.60" y1="206.68" x2="316.80" y2="206.68" stroke="#1f4f80" stroke-width="0.7" />
<line x1="334.60" y1="222.09" x2="334.60" y2="214.56" stroke="#1f4f80" stroke-width="0.7" />
<line x1="333.00" y1="222.09" x2="336.20" y2="222.09" stroke="#1f4f80" stroke-width="0.7" />
<line x1="333.00" y1="214.56" x2="336.20" y2="214.56" stroke="#1f4f80" stroke-width="0.7" />
<line x1="354.00" y1="225.18" x2="354.00" y2="218.33" stroke="#1f4f80" stroke-width="0.7" />
<line x1="352.40" y1="225.18" x2="355.60" y2="225.18" stroke="#1f4f80" stroke-width="0.7" />
<line x1="352.40" y1="218.33" x2="355.60" y2="218.33" stroke="#1f4f80" stroke-width="0.7" />
<line x1="373.10" y1="225.86" x2="373.10" y2="224.49" stroke="#1f4f80" stroke-width="0.7" />
<line x1="371.50" y1="225.86" x2="374.70" y2="225.86" stroke="#1f4f80" stroke-width="0.7" />
<line x1="371.50" y1="224.49" x2="374.70" y2="224.49" stroke="#1f4f80" stroke-width="0.7" />
<line x1="392.50" y1="231.69" x2="392.50" y2="224.84" stroke="#1f4f80" stroke-width="0.7" />
<line x1="390.90" y1="231.69" x2="394.10" y2="231.69" stroke="#1f4f80" stroke-width="0.7" />
<line x1="390.90" y1="224.84" x2="394.10" y2="224.84" stroke="#1f4f80" stroke-width="0.7" />
<polyline points="315.20,212.16 334.60,218.33 354.00,221.75 373.10,225.18 392.50,228.26" fill="none" stroke="#1f4f80" stroke-width="0.9" />
<circle cx="315.20" cy="212.16" r="1.50" fill="#1f4f80" />
<circle cx="334.60" cy="218.33" r="1.50" fill="#1f4f80" />
<circle cx="354.00" cy="221.75" r="1.50" fill="#1f4f80" />
<circle cx="373.10" cy="225.18" r="1.50" fill="#1f4f80" />
<circle cx="392.50" cy="228.26" r="1.50" fill="#1f4f80" />
<line x1="397.90" y1="184.00" x2="397.90" y2="228.00" stroke="#555" stroke-width="0.8" />
<text x="400.30" y="208.80" font-size="7" text-anchor="middle" fill="#231f20" stroke="#231f20" stroke-width="0.13" transform="rotate(90 400.30 208.80)" >****</text>
<line x1="410.50" y1="193.80" x2="417.50" y2="193.80" stroke="#c8193c" stroke-width="0.8" />
<circle cx="414.00" cy="193.80" r="1.40" fill="#c8193c" />
<text x="421.20" y="196.40" font-size="7.1" text-anchor="start" fill="#231f20" stroke="#231f20" stroke-width="0.13" >vehicle</text>
<line x1="410.50" y1="205.50" x2="417.50" y2="205.50" stroke="#1f4f80" stroke-width="0.8" />
<circle cx="414.00" cy="205.50" r="1.40" fill="#1f4f80" />
<text x="421.20" y="208.10" font-size="7.1" text-anchor="start" fill="#231f20" stroke="#231f20" stroke-width="0.13" >Indisulam 10 mg/kg</text>
<text x="7.40" y="283.20" font-size="11" text-anchor="start" fill="#000" font-weight="bold" >G</text>
<text x="62.40" y="284.40" font-size="7.5" text-anchor="middle" fill="#231f20" stroke="#231f20" stroke-width="0.13" >vehicle</text>
<text x="128.30" y="284.40" font-size="7.5" text-anchor="middle" fill="#231f20" stroke="#231f20" stroke-width="0.13" >Indisulam</text>
<rect x="32.40" y="289.20" width="127.00" height="29.60" fill="#0a0a0a" />
<text x="29.80" y="305.90" font-size="7.7" text-anchor="end" fill="#231f20" stroke="#231f20" stroke-width="0.13" >day 0</text>
<rect x="32.40" y="320.40" width="127.00" height="29.80" fill="#0a0a0a" />
<text x="29.80" y="337.20" font-size="7.7" text-anchor="end" fill="#231f20" stroke="#231f20" stroke-width="0.13" >day 5</text>
<rect x="32.40" y="352.10" width="127.00" height="28.90" fill="#0a0a0a" />
<text x="29.80" y="368.45" font-size="7.7" text-anchor="end" fill="#231f20" stroke="#231f20" stroke-width="0.13" >day 10</text>
<rect x="32.40" y="382.80" width="127.00" height="29.60" fill="#0a0a0a" />
<text x="29.80" y="399.50" font-size="7.7" text-anchor="end" fill="#231f20" stroke="#231f20" stroke-width="0.13" >day 20</text>
<rect x="95.00" y="289.00" width="1.20" height="124.00" fill="#ffffff" />
<g transform="rotate(8 40.10 303.60)"><path d="M40.70,291.60 L41.80,293.60 L42.60,295.60 L43.30,297.60 L43.90,299.60 L44.40,302.60 L44.70,306.60 L44.70,310.60 L44.20,312.60 L43.10,314.10 L41.30,315.00 L38.90,315.00 L37.10,314.10 L36.00,312.60 L35.50,310.60 L35.50,306.60 L35.80,302.60 L36.30,299.60 L36.90,297.60 L37.60,295.60 L38.40,293.60 L39.50,291.60 Z" fill="url(#mg)" stroke="#b0b0b0" stroke-width="0.5" stroke-linejoin="round" filter="url(#b3)"/><ellipse cx="39.50" cy="299.60" rx="1.3" ry="2.2" fill="#999" opacity="0.35" filter="url(#b3)"/><ellipse cx="41.30" cy="304.60" rx="1.2" ry="1.6" fill="#aaa" opacity="0.3" filter="url(#b3)"/><ellipse cx="38.60" cy="307.60" rx="1.0" ry="1.4" fill="#aaa" opacity="0.25" filter="url(#b3)"/><path d="M37.50,313.10 L36.50,317.60 M42.70,313.10 L43.70,317.60 M40.10,314.10 L40.50,318.60" stroke="#9a9a9a" stroke-width="0.6"/></g>
<g><path d="M53.50,291.60 L54.60,293.60 L55.40,295.60 L56.10,297.60 L56.70,299.60 L57.20,302.60 L57.50,306.60 L57.50,310.60 L57.00,312.60 L55.90,314.10 L54.10,315.00 L51.70,315.00 L49.90,314.10 L48.80,312.60 L48.30,310.60 L48.30,306.60 L48.60,302.60 L49.10,299.60 L49.70,297.60 L50.40,295.60 L51.20,293.60 L52.30,291.60 Z" fill="url(#mg)" stroke="#b0b0b0" stroke-width="0.5" stroke-linejoin="round" filter="url(#b3)"/><ellipse cx="52.30" cy="299.60" rx="1.3" ry="2.2" fill="#999" opacity="0.35" filter="url(#b3)"/><ellipse cx="54.10" cy="304.60" rx="1.2" ry="1.6" fill="#aaa" opacity="0.3" filter="url(#b3)"/><ellipse cx="51.40" cy="307.60" rx="1.0" ry="1.4" fill="#aaa" opacity="0.25" filter="url(#b3)"/><path d="M50.30,313.10 L49.30,317.60 M55.50,313.10 L56.50,317.60 M52.90,314.10 L53.30,318.60" stroke="#9a9a9a" stroke-width="0.6"/></g>
<g transform="rotate(5 64.30 303.60)"><path d="M64.90,291.60 L66.00,293.60 L66.80,295.60 L67.50,297.60 L68.10,299.60 L68.60,302.60 L68.90,306.60 L68.90,310.60 L68.40,312.60 L67.30,314.10 L65.50,315.00 L63.10,315.00 L61.30,314.10 L60.20,312.60 L59.70,310.60 L59.70,306.60 L60.00,302.60 L60.50,299.60 L61.10,297.60 L61.80,295.60 L62.60,293.60 L63.70,291.60 Z" fill="url(#mg)" stroke="#b0b0b0" stroke-width="0.5" stroke-linejoin="round" filter="url(#b3)"/><ellipse cx="63.70" cy="299.60" rx="1.3" ry="2.2" fill="#999" opacity="0.35" filter="url(#b3)"/><ellipse cx="65.50" cy="304.60" rx="1.2" ry="1.6" fill="#aaa" opacity="0.3" filter="url(#b3)"/><ellipse cx="62.80" cy="307.60" rx="1.0" ry="1.4" fill="#aaa" opacity="0.25" filter="url(#b3)"/><path d="M61.70,313.10 L60.70,317.60 M66.90,313.10 L67.90,317.60 M64.30,314.10 L64.70,318.60" stroke="#9a9a9a" stroke-width="0.6"/></g>
<g><path d="M77.00,291.60 L78.10,293.60 L78.90,295.60 L79.60,297.60 L80.20,299.60 L80.70,302.60 L81.00,306.60 L81.00,310.60 L80.50,312.60 L79.40,314.10 L77.60,315.00 L75.20,315.00 L73.40,314.10 L72.30,312.60 L71.80,310.60 L71.80,306.60 L72.10,302.60 L72.60,299.60 L73.20,297.60 L73.90,295.60 L74.70,293.60 L75.80,291.60 Z" fill="url(#mg)" stroke="#b0b0b0" stroke-width="0.5" stroke-linejoin="round" filter="url(#b3)"/><ellipse cx="75.80" cy="299.60" rx="1.3" ry="2.2" fill="#999" opacity="0.35" filter="url(#b3)"/><ellipse cx="77.60" cy="304.60" rx="1.2" ry="1.6" fill="#aaa" opacity="0.3" filter="url(#b3)"/><ellipse cx="74.90" cy="307.60" rx="1.0" ry="1.4" fill="#aaa" opacity="0.25" filter="url(#b3)"/><path d="M73.80,313.10 L72.80,317.60 M79.00,313.10 L80.00,317.60 M76.40,314.10 L76.80,318.60" stroke="#9a9a9a" stroke-width="0.6"/></g>
<g transform="rotate(-5 87.20 303.60)"><path d="M87.80,291.60 L88.90,293.60 L89.70,295.60 L90.40,297.60 L91.00,299.60 L91.50,302.60 L91.80,306.60 L91.80,310.60 L91.30,312.60 L90.20,314.10 L88.40,315.00 L86.00,315.00 L84.20,314.10 L83.10,312.60 L82.60,310.60 L82.60,306.60 L82.90,302.60 L83.40,299.60 L84.00,297.60 L84.70,295.60 L85.50,293.60 L86.60,291.60 Z" fill="url(#mg)" stroke="#b0b0b0" stroke-width="0.5" stroke-linejoin="round" filter="url(#b3)"/><ellipse cx="86.60" cy="299.60" rx="1.3" ry="2.2" fill="#999" opacity="0.35" filter="url(#b3)"/><ellipse cx="88.40" cy="304.60" rx="1.2" ry="1.6" fill="#aaa" opacity="0.3" filter="url(#b3)"/><ellipse cx="85.70" cy="307.60" rx="1.0" ry="1.4" fill="#aaa" opacity="0.25" filter="url(#b3)"/><path d="M84.60,313.10 L83.60,317.60 M89.80,313.10 L90.80,317.60 M87.20,314.10 L87.60,318.60" stroke="#9a9a9a" stroke-width="0.6"/></g>
<g transform="rotate(8 104.10 303.60)"><path d="M104.70,291.60 L105.80,293.60 L106.60,295.60 L107.30,297.60 L107.90,299.60 L108.40,302.60 L108.70,306.60 L108.70,310.60 L108.20,312.60 L107.10,314.10 L105.30,315.00 L102.90,315.00 L101.10,314.10 L100.00,312.60 L99.50,310.60 L99.50,306.60 L99.80,302.60 L100.30,299.60 L100.90,297.60 L101.60,295.60 L102.40,293.60 L103.50,291.60 Z" fill="url(#mg)" stroke="#b0b0b0" stroke-width="0.5" stroke-linejoin="round" filter="url(#b3)"/><ellipse cx="103.50" cy="299.60" rx="1.3" ry="2.2" fill="#999" opacity="0.35" filter="url(#b3)"/><ellipse cx="105.30" cy="304.60" rx="1.2" ry="1.6" fill="#aaa" opacity="0.3" filter="url(#b3)"/><ellipse cx="102.60" cy="307.60" rx="1.0" ry="1.4" fill="#aaa" opacity="0.25" filter="url(#b3)"/><path d="M101.50,313.10 L100.50,317.60 M106.70,313.10 L107.70,317.60 M104.10,314.10 L104.50,318.60" stroke="#9a9a9a" stroke-width="0.6"/></g>
<g><path d="M116.10,291.60 L117.20,293.60 L118.00,295.60 L118.70,297.60 L119.30,299.60 L119.80,302.60 L120.10,306.60 L120.10,310.60 L119.60,312.60 L118.50,314.10 L116.70,315.00 L114.30,315.00 L112.50,314.10 L111.40,312.60 L110.90,310.60 L110.90,306.60 L111.20,302.60 L111.70,299.60 L112.30,297.60 L113.00,295.60 L113.80,293.60 L114.90,291.60 Z" fill="url(#mg)" stroke="#b0b0b0" stroke-width="0.5" stroke-linejoin="round" filter="url(#b3)"/><ellipse cx="114.90" cy="299.60" rx="1.3" ry="2.2" fill="#999" opacity="0.35" filter="url(#b3)"/><ellipse cx="116.70" cy="304.60" rx="1.2" ry="1.6" fill="#aaa" opacity="0.3" filter="url(#b3)"/><ellipse cx="114.00" cy="307.60" rx="1.0" ry="1.4" fill="#aaa" opacity="0.25" filter="url(#b3)"/><path d="M112.90,313.10 L111.90,317.60 M118.10,313.10 L119.10,317.60 M115.50,314.10 L115.90,318.60" stroke="#9a9a9a" stroke-width="0.6"/></g>
<g transform="rotate(5 127.00 303.60)"><path d="M127.60,291.60 L128.70,293.60 L129.50,295.60 L130.20,297.60 L130.80,299.60 L131.30,302.60 L131.60,306.60 L131.60,310.60 L131.10,312.60 L130.00,314.10 L128.20,315.00 L125.80,315.00 L124.00,314.10 L122.90,312.60 L122.40,310.60 L122.40,306.60 L122.70,302.60 L123.20,299.60 L123.80,297.60 L124.50,295.60 L125.30,293.60 L126.40,291.60 Z" fill="url(#mg)" stroke="#b0b0b0" stroke-width="0.5" stroke-linejoin="round" filter="url(#b3)"/><ellipse cx="126.40" cy="299.60" rx="1.3" ry="2.2" fill="#999" opacity="0.35" filter="url(#b3)"/><ellipse cx="128.20" cy="304.60" rx="1.2" ry="1.6" fill="#aaa" opacity="0.3" filter="url(#b3)"/><ellipse cx="125.50" cy="307.60" rx="1.0" ry="1.4" fill="#aaa" opacity="0.25" filter="url(#b3)"/><path d="M124.40,313.10 L123.40,317.60 M129.60,313.10 L130.60,317.60 M127.00,314.10 L127.40,318.60" stroke="#9a9a9a" stroke-width="0.6"/></g>
<g><path d="M139.70,291.60 L140.80,293.60 L141.60,295.60 L142.30,297.60 L142.90,299.60 L143.40,302.60 L143.70,306.60 L143.70,310.60 L143.20,312.60 L142.10,314.10 L140.30,315.00 L137.90,315.00 L136.10,314.10 L135.00,312.60 L134.50,310.60 L134.50,306.60 L134.80,302.60 L135.30,299.60 L135.90,297.60 L136.60,295.60 L137.40,293.60 L138.50,291.60 Z" fill="url(#mg)" stroke="#b0b0b0" stroke-width="0.5" stroke-linejoin="round" filter="url(#b3)"/><ellipse cx="138.50" cy="299.60" rx="1.3" ry="2.2" fill="#999" opacity="0.35" filter="url(#b3)"/><ellipse cx="140.30" cy="304.60" rx="1.2" ry="1.6" fill="#aaa" opacity="0.3" filter="url(#b3)"/><ellipse cx="137.60" cy="307.60" rx="1.0" ry="1.4" fill="#aaa" opacity="0.25" filter="url(#b3)"/><path d="M136.50,313.10 L135.50,317.60 M141.70,313.10 L142.70,317.60 M139.10,314.10 L139.50,318.60" stroke="#9a9a9a" stroke-width="0.6"/></g>
<g transform="rotate(-5 151.20 303.60)"><path d="M151.80,291.60 L152.90,293.60 L153.70,295.60 L154.40,297.60 L155.00,299.60 L155.50,302.60 L155.80,306.60 L155.80,310.60 L155.30,312.60 L154.20,314.10 L152.40,315.00 L150.00,315.00 L148.20,314.10 L147.10,312.60 L146.60,310.60 L146.60,306.60 L146.90,302.60 L147.40,299.60 L148.00,297.60 L148.70,295.60 L149.50,293.60 L150.60,291.60 Z" fill="url(#mg)" stroke="#b0b0b0" stroke-width="0.5" stroke-linejoin="round" filter="url(#b3)"/><ellipse cx="150.60" cy="299.60" rx="1.3" ry="2.2" fill="#999" opacity="0.35" filter="url(#b3)"/><ellipse cx="152.40" cy="304.60" rx="1.2" ry="1.6" fill="#aaa" opacity="0.3" filter="url(#b3)"/><ellipse cx="149.70" cy="307.60" rx="1.0" ry="1.4" fill="#aaa" opacity="0.25" filter="url(#b3)"/><path d="M148.60,313.10 L147.60,317.60 M153.80,313.10 L154.80,317.60 M151.20,314.10 L151.60,318.60" stroke="#9a9a9a" stroke-width="0.6"/></g>
<g><path d="M40.70,322.80 L41.80,324.80 L42.60,326.80 L43.30,328.80 L43.90,330.80 L44.40,333.80 L44.70,337.80 L44.70,341.80 L44.20,343.80 L43.10,345.30 L41.30,346.20 L38.90,346.20 L37.10,345.30 L36.00,343.80 L35.50,341.80 L35.50,337.80 L35.80,333.80 L36.30,330.80 L36.90,328.80 L37.60,326.80 L38.40,324.80 L39.50,322.80 Z" fill="url(#mg)" stroke="#b0b0b0" stroke-width="0.5" stroke-linejoin="round" filter="url(#b3)"/><ellipse cx="39.50" cy="330.80" rx="1.3" ry="2.2" fill="#999" opacity="0.35" filter="url(#b3)"/><ellipse cx="41.30" cy="335.80" rx="1.2" ry="1.6" fill="#aaa" opacity="0.3" filter="url(#b3)"/><ellipse cx="38.60" cy="338.80" rx="1.0" ry="1.4" fill="#aaa" opacity="0.25" filter="url(#b3)"/><path d="M37.50,344.30 L36.50,348.80 M42.70,344.30 L43.70,348.80 M40.10,345.30 L40.50,349.80" stroke="#9a9a9a" stroke-width="0.6"/></g>
<g transform="rotate(3 52.90 334.80)"><path d="M53.50,322.80 L54.60,324.80 L55.40,326.80 L56.10,328.80 L56.70,330.80 L57.20,333.80 L57.50,337.80 L57.50,341.80 L57.00,343.80 L55.90,345.30 L54.10,346.20 L51.70,346.20 L49.90,345.30 L48.80,343.80 L48.30,341.80 L48.30,337.80 L48.60,333.80 L49.10,330.80 L49.70,328.80 L50.40,326.80 L51.20,324.80 L52.30,322.80 Z" fill="url(#mg)" stroke="#b0b0b0" stroke-width="0.5" stroke-linejoin="round" filter="url(#b3)"/><ellipse cx="52.30" cy="330.80" rx="1.3" ry="2.2" fill="#999" opacity="0.35" filter="url(#b3)"/><ellipse cx="54.10" cy="335.80" rx="1.2" ry="1.6" fill="#aaa" opacity="0.3" filter="url(#b3)"/><ellipse cx="51.40" cy="338.80" rx="1.0" ry="1.4" fill="#aaa" opacity="0.25" filter="url(#b3)"/><path d="M50.30,344.30 L49.30,348.80 M55.50,344.30 L56.50,348.80 M52.90,345.30 L53.30,349.80" stroke="#9a9a9a" stroke-width="0.6"/></g>
<g><path d="M64.90,322.80 L66.00,324.80 L66.80,326.80 L67.50,328.80 L68.10,330.80 L68.60,333.80 L68.90,337.80 L68.90,341.80 L68.40,343.80 L67.30,345.30 L65.50,346.20 L63.10,346.20 L61.30,345.30 L60.20,343.80 L59.70,341.80 L59.70,337.80 L60.00,333.80 L60.50,330.80 L61.10,328.80 L61.80,326.80 L62.60,324.80 L63.70,322.80 Z" fill="url(#mg)" stroke="#b0b0b0" stroke-width="0.5" stroke-linejoin="round" filter="url(#b3)"/><ellipse cx="63.70" cy="330.80" rx="1.3" ry="2.2" fill="#999" opacity="0.35" filter="url(#b3)"/><ellipse cx="65.50" cy="335.80" rx="1.2" ry="1.6" fill="#aaa" opacity="0.3" filter="url(#b3)"/><ellipse cx="62.80" cy="338.80" rx="1.0" ry="1.4" fill="#aaa" opacity="0.25" filter="url(#b3)"/><path d="M61.70,344.30 L60.70,348.80 M66.90,344.30 L67.90,348.80 M64.30,345.30 L64.70,349.80" stroke="#9a9a9a" stroke-width="0.6"/></g>
<g><path d="M77.00,322.80 L78.10,324.80 L78.90,326.80 L79.60,328.80 L80.20,330.80 L80.70,333.80 L81.00,337.80 L81.00,341.80 L80.50,343.80 L79.40,345.30 L77.60,346.20 L75.20,346.20 L73.40,345.30 L72.30,343.80 L71.80,341.80 L71.80,337.80 L72.10,333.80 L72.60,330.80 L73.20,328.80 L73.90,326.80 L74.70,324.80 L75.80,322.80 Z" fill="url(#mg)" stroke="#b0b0b0" stroke-width="0.5" stroke-linejoin="round" filter="url(#b3)"/><ellipse cx="75.80" cy="330.80" rx="1.3" ry="2.2" fill="#999" opacity="0.35" filter="url(#b3)"/><ellipse cx="77.60" cy="335.80" rx="1.2" ry="1.6" fill="#aaa" opacity="0.3" filter="url(#b3)"/><ellipse cx="74.90" cy="338.80" rx="1.0" ry="1.4" fill="#aaa" opacity="0.25" filter="url(#b3)"/><path d="M73.80,344.30 L72.80,348.80 M79.00,344.30 L80.00,348.80 M76.40,345.30 L76.80,349.80" stroke="#9a9a9a" stroke-width="0.6"/></g>
<g transform="rotate(4 87.20 334.80)"><path d="M87.80,322.80 L88.90,324.80 L89.70,326.80 L90.40,328.80 L91.00,330.80 L91.50,333.80 L91.80,337.80 L91.80,341.80 L91.30,343.80 L90.20,345.30 L88.40,346.20 L86.00,346.20 L84.20,345.30 L83.10,343.80 L82.60,341.80 L82.60,337.80 L82.90,333.80 L83.40,330.80 L84.00,328.80 L84.70,326.80 L85.50,324.80 L86.60,322.80 Z" fill="url(#mg)" stroke="#b0b0b0" stroke-width="0.5" stroke-linejoin="round" filter="url(#b3)"/><ellipse cx="86.60" cy="330.80" rx="1.3" ry="2.2" fill="#999" opacity="0.35" filter="url(#b3)"/><ellipse cx="88.40" cy="335.80" rx="1.2" ry="1.6" fill="#aaa" opacity="0.3" filter="url(#b3)"/><ellipse cx="85.70" cy="338.80" rx="1.0" ry="1.4" fill="#aaa" opacity="0.25" filter="url(#b3)"/><path d="M84.60,344.30 L83.60,348.80 M89.80,344.30 L90.80,348.80 M87.20,345.30 L87.60,349.80" stroke="#9a9a9a" stroke-width="0.6"/></g>
<g><path d="M104.70,322.80 L105.80,324.80 L106.60,326.80 L107.30,328.80 L107.90,330.80 L108.40,333.80 L108.70,337.80 L108.70,341.80 L108.20,343.80 L107.10,345.30 L105.30,346.20 L102.90,346.20 L101.10,345.30 L100.00,343.80 L99.50,341.80 L99.50,337.80 L99.80,333.80 L100.30,330.80 L100.90,328.80 L101.60,326.80 L102.40,324.80 L103.50,322.80 Z" fill="url(#mg)" stroke="#b0b0b0" stroke-width="0.5" stroke-linejoin="round" filter="url(#b3)"/><ellipse cx="103.50" cy="330.80" rx="1.3" ry="2.2" fill="#999" opacity="0.35" filter="url(#b3)"/><ellipse cx="105.30" cy="335.80" rx="1.2" ry="1.6" fill="#aaa" opacity="0.3" filter="url(#b3)"/><ellipse cx="102.60" cy="338.80" rx="1.0" ry="1.4" fill="#aaa" opacity="0.25" filter="url(#b3)"/><path d="M101.50,344.30 L100.50,348.80 M106.70,344.30 L107.70,348.80 M104.10,345.30 L104.50,349.80" stroke="#9a9a9a" stroke-width="0.6"/></g>
<g transform="rotate(3 115.50 334.80)"><path d="M116.10,322.80 L117.20,324.80 L118.00,326.80 L118.70,328.80 L119.30,330.80 L119.80,333.80 L120.10,337.80 L120.10,341.80 L119.60,343.80 L118.50,345.30 L116.70,346.20 L114.30,346.20 L112.50,345.30 L111.40,343.80 L110.90,341.80 L110.90,337.80 L111.20,333.80 L111.70,330.80 L112.30,328.80 L113.00,326.80 L113.80,324.80 L114.90,322.80 Z" fill="url(#mg)" stroke="#b0b0b0" stroke-width="0.5" stroke-linejoin="round" filter="url(#b3)"/><ellipse cx="114.90" cy="330.80" rx="1.3" ry="2.2" fill="#999" opacity="0.35" filter="url(#b3)"/><ellipse cx="116.70" cy="335.80" rx="1.2" ry="1.6" fill="#aaa" opacity="0.3" filter="url(#b3)"/><ellipse cx="114.00" cy="338.80" rx="1.0" ry="1.4" fill="#aaa" opacity="0.25" filter="url(#b3)"/><path d="M112.90,344.30 L111.90,348.80 M118.10,344.30 L119.10,348.80 M115.50,345.30 L115.90,349.80" stroke="#9a9a9a" stroke-width="0.6"/></g>
<g><path d="M127.60,322.80 L128.70,324.80 L129.50,326.80 L130.20,328.80 L130.80,330.80 L131.30,333.80 L131.60,337.80 L131.60,341.80 L131.10,343.80 L130.00,345.30 L128.20,346.20 L125.80,346.20 L124.00,345.30 L122.90,343.80 L122.40,341.80 L122.40,337.80 L122.70,333.80 L123.20,330.80 L123.80,328.80 L124.50,326.80 L125.30,324.80 L126.40,322.80 Z" fill="url(#mg)" stroke="#b0b0b0" stroke-width="0.5" stroke-linejoin="round" filter="url(#b3)"/><ellipse cx="126.40" cy="330.80" rx="1.3" ry="2.2" fill="#999" opacity="0.35" filter="url(#b3)"/><ellipse cx="128.20" cy="335.80" rx="1.2" ry="1.6" fill="#aaa" opacity="0.3" filter="url(#b3)"/><ellipse cx="125.50" cy="338.80" rx="1.0" ry="1.4" fill="#aaa" opacity="0.25" filter="url(#b3)"/><path d="M124.40,344.30 L123.40,348.80 M129.60,344.30 L130.60,348.80 M127.00,345.30 L127.40,349.80" stroke="#9a9a9a" stroke-width="0.6"/></g>
<g><path d="M139.70,322.80 L140.80,324.80 L141.60,326.80 L142.30,328.80 L142.90,330.80 L143.40,333.80 L143.70,337.80 L143.70,341.80 L143.20,343.80 L142.10,345.30 L140.30,346.20 L137.90,346.20 L136.10,345.30 L135.00,343.80 L134.50,341.80 L134.50,337.80 L134.80,333.80 L135.30,330.80 L135.90,328.80 L136.60,326.80 L137.40,324.80 L138.50,322.80 Z" fill="url(#mg)" stroke="#b0b0b0" stroke-width="0.5" stroke-linejoin="round" filter="url(#b3)"/><ellipse cx="138.50" cy="330.80" rx="1.3" ry="2.2" fill="#999" opacity="0.35" filter="url(#b3)"/><ellipse cx="140.30" cy="335.80" rx="1.2" ry="1.6" fill="#aaa" opacity="0.3" filter="url(#b3)"/><ellipse cx="137.60" cy="338.80" rx="1.0" ry="1.4" fill="#aaa" opacity="0.25" filter="url(#b3)"/><path d="M136.50,344.30 L135.50,348.80 M141.70,344.30 L142.70,348.80 M139.10,345.30 L139.50,349.80" stroke="#9a9a9a" stroke-width="0.6"/></g>
<g transform="rotate(4 151.20 334.80)"><path d="M151.80,322.80 L152.90,324.80 L153.70,326.80 L154.40,328.80 L155.00,330.80 L155.50,333.80 L155.80,337.80 L155.80,341.80 L155.30,343.80 L154.20,345.30 L152.40,346.20 L150.00,346.20 L148.20,345.30 L147.10,343.80 L146.60,341.80 L146.60,337.80 L146.90,333.80 L147.40,330.80 L148.00,328.80 L148.70,326.80 L149.50,324.80 L150.60,322.80 Z" fill="url(#mg)" stroke="#b0b0b0" stroke-width="0.5" stroke-linejoin="round" filter="url(#b3)"/><ellipse cx="150.60" cy="330.80" rx="1.3" ry="2.2" fill="#999" opacity="0.35" filter="url(#b3)"/><ellipse cx="152.40" cy="335.80" rx="1.2" ry="1.6" fill="#aaa" opacity="0.3" filter="url(#b3)"/><ellipse cx="149.70" cy="338.80" rx="1.0" ry="1.4" fill="#aaa" opacity="0.25" filter="url(#b3)"/><path d="M148.60,344.30 L147.60,348.80 M153.80,344.30 L154.80,348.80 M151.20,345.30 L151.60,349.80" stroke="#9a9a9a" stroke-width="0.6"/></g>
<g transform="rotate(6 40.10 366.50)"><path d="M40.70,354.50 L41.80,356.50 L42.60,358.50 L43.30,360.50 L43.90,362.50 L44.40,365.50 L44.70,369.50 L44.70,373.50 L44.20,375.50 L43.10,377.00 L41.30,377.90 L38.90,377.90 L37.10,377.00 L36.00,375.50 L35.50,373.50 L35.50,369.50 L35.80,365.50 L36.30,362.50 L36.90,360.50 L37.60,358.50 L38.40,356.50 L39.50,354.50 Z" fill="url(#mg)" stroke="#b0b0b0" stroke-width="0.5" stroke-linejoin="round" filter="url(#b3)"/><ellipse cx="39.50" cy="362.50" rx="1.3" ry="2.2" fill="#999" opacity="0.35" filter="url(#b3)"/><ellipse cx="41.30" cy="367.50" rx="1.2" ry="1.6" fill="#aaa" opacity="0.3" filter="url(#b3)"/><ellipse cx="38.60" cy="370.50" rx="1.0" ry="1.4" fill="#aaa" opacity="0.25" filter="url(#b3)"/><path d="M37.50,376.00 L36.50,380.50 M42.70,376.00 L43.70,380.50 M40.10,377.00 L40.50,381.50" stroke="#9a9a9a" stroke-width="0.6"/></g>
<g><path d="M53.50,354.50 L54.60,356.50 L55.40,358.50 L56.10,360.50 L56.70,362.50 L57.20,365.50 L57.50,369.50 L57.50,373.50 L57.00,375.50 L55.90,377.00 L54.10,377.90 L51.70,377.90 L49.90,377.00 L48.80,375.50 L48.30,373.50 L48.30,369.50 L48.60,365.50 L49.10,362.50 L49.70,360.50 L50.40,358.50 L51.20,356.50 L52.30,354.50 Z" fill="url(#mg)" stroke="#b0b0b0" stroke-width="0.5" stroke-linejoin="round" filter="url(#b3)"/><ellipse cx="52.30" cy="362.50" rx="1.3" ry="2.2" fill="#999" opacity="0.35" filter="url(#b3)"/><ellipse cx="54.10" cy="367.50" rx="1.2" ry="1.6" fill="#aaa" opacity="0.3" filter="url(#b3)"/><ellipse cx="51.40" cy="370.50" rx="1.0" ry="1.4" fill="#aaa" opacity="0.25" filter="url(#b3)"/><path d="M50.30,376.00 L49.30,380.50 M55.50,376.00 L56.50,380.50 M52.90,377.00 L53.30,381.50" stroke="#9a9a9a" stroke-width="0.6"/></g>
<g transform="rotate(6 64.30 366.50)"><path d="M64.90,354.50 L66.00,356.50 L66.80,358.50 L67.50,360.50 L68.10,362.50 L68.60,365.50 L68.90,369.50 L68.90,373.50 L68.40,375.50 L67.30,377.00 L65.50,377.90 L63.10,377.90 L61.30,377.00 L60.20,375.50 L59.70,373.50 L59.70,369.50 L60.00,365.50 L60.50,362.50 L61.10,360.50 L61.80,358.50 L62.60,356.50 L63.70,354.50 Z" fill="url(#mg)" stroke="#b0b0b0" stroke-width="0.5" stroke-linejoin="round" filter="url(#b3)"/><ellipse cx="63.70" cy="362.50" rx="1.3" ry="2.2" fill="#999" opacity="0.35" filter="url(#b3)"/><ellipse cx="65.50" cy="367.50" rx="1.2" ry="1.6" fill="#aaa" opacity="0.3" filter="url(#b3)"/><ellipse cx="62.80" cy="370.50" rx="1.0" ry="1.4" fill="#aaa" opacity="0.25" filter="url(#b3)"/><path d="M61.70,376.00 L60.70,380.50 M66.90,376.00 L67.90,380.50 M64.30,377.00 L64.70,381.50" stroke="#9a9a9a" stroke-width="0.6"/></g>
<g><path d="M77.00,354.50 L78.10,356.50 L78.90,358.50 L79.60,360.50 L80.20,362.50 L80.70,365.50 L81.00,369.50 L81.00,373.50 L80.50,375.50 L79.40,377.00 L77.60,377.90 L75.20,377.90 L73.40,377.00 L72.30,375.50 L71.80,373.50 L71.80,369.50 L72.10,365.50 L72.60,362.50 L73.20,360.50 L73.90,358.50 L74.70,356.50 L75.80,354.50 Z" fill="url(#mg)" stroke="#b0b0b0" stroke-width="0.5" stroke-linejoin="round" filter="url(#b3)"/><ellipse cx="75.80" cy="362.50" rx="1.3" ry="2.2" fill="#999" opacity="0.35" filter="url(#b3)"/><ellipse cx="77.60" cy="367.50" rx="1.2" ry="1.6" fill="#aaa" opacity="0.3" filter="url(#b3)"/><ellipse cx="74.90" cy="370.50" rx="1.0" ry="1.4" fill="#aaa" opacity="0.25" filter="url(#b3)"/><path d="M73.80,376.00 L72.80,380.50 M79.00,376.00 L80.00,380.50 M76.40,377.00 L76.80,381.50" stroke="#9a9a9a" stroke-width="0.6"/></g>
<g><path d="M87.80,354.50 L88.90,356.50 L89.70,358.50 L90.40,360.50 L91.00,362.50 L91.50,365.50 L91.80,369.50 L91.80,373.50 L91.30,375.50 L90.20,377.00 L88.40,377.90 L86.00,377.90 L84.20,377.00 L83.10,375.50 L82.60,373.50 L82.60,369.50 L82.90,365.50 L83.40,362.50 L84.00,360.50 L84.70,358.50 L85.50,356.50 L86.60,354.50 Z" fill="url(#mg)" stroke="#b0b0b0" stroke-width="0.5" stroke-linejoin="round" filter="url(#b3)"/><ellipse cx="86.60" cy="362.50" rx="1.3" ry="2.2" fill="#999" opacity="0.35" filter="url(#b3)"/><ellipse cx="88.40" cy="367.50" rx="1.2" ry="1.6" fill="#aaa" opacity="0.3" filter="url(#b3)"/><ellipse cx="85.70" cy="370.50" rx="1.0" ry="1.4" fill="#aaa" opacity="0.25" filter="url(#b3)"/><path d="M84.60,376.00 L83.60,380.50 M89.80,376.00 L90.80,380.50 M87.20,377.00 L87.60,381.50" stroke="#9a9a9a" stroke-width="0.6"/></g>
<g transform="rotate(6 104.10 366.50)"><path d="M104.70,354.50 L105.80,356.50 L106.60,358.50 L107.30,360.50 L107.90,362.50 L108.40,365.50 L108.70,369.50 L108.70,373.50 L108.20,375.50 L107.10,377.00 L105.30,377.90 L102.90,377.90 L101.10,377.00 L100.00,375.50 L99.50,373.50 L99.50,369.50 L99.80,365.50 L100.30,362.50 L100.90,360.50 L101.60,358.50 L102.40,356.50 L103.50,354.50 Z" fill="url(#mg)" stroke="#b0b0b0" stroke-width="0.5" stroke-linejoin="round" filter="url(#b3)"/><ellipse cx="103.50" cy="362.50" rx="1.3" ry="2.2" fill="#999" opacity="0.35" filter="url(#b3)"/><ellipse cx="105.30" cy="367.50" rx="1.2" ry="1.6" fill="#aaa" opacity="0.3" filter="url(#b3)"/><ellipse cx="102.60" cy="370.50" rx="1.0" ry="1.4" fill="#aaa" opacity="0.25" filter="url(#b3)"/><path d="M101.50,376.00 L100.50,380.50 M106.70,376.00 L107.70,380.50 M104.10,377.00 L104.50,381.50" stroke="#9a9a9a" stroke-width="0.6"/></g>
<g><path d="M116.10,354.50 L117.20,356.50 L118.00,358.50 L118.70,360.50 L119.30,362.50 L119.80,365.50 L120.10,369.50 L120.10,373.50 L119.60,375.50 L118.50,377.00 L116.70,377.90 L114.30,377.90 L112.50,377.00 L111.40,375.50 L110.90,373.50 L110.90,369.50 L111.20,365.50 L111.70,362.50 L112.30,360.50 L113.00,358.50 L113.80,356.50 L114.90,354.50 Z" fill="url(#mg)" stroke="#b0b0b0" stroke-width="0.5" stroke-linejoin="round" filter="url(#b3)"/><ellipse cx="114.90" cy="362.50" rx="1.3" ry="2.2" fill="#999" opacity="0.35" filter="url(#b3)"/><ellipse cx="116.70" cy="367.50" rx="1.2" ry="1.6" fill="#aaa" opacity="0.3" filter="url(#b3)"/><ellipse cx="114.00" cy="370.50" rx="1.0" ry="1.4" fill="#aaa" opacity="0.25" filter="url(#b3)"/><path d="M112.90,376.00 L111.90,380.50 M118.10,376.00 L119.10,380.50 M115.50,377.00 L115.90,381.50" stroke="#9a9a9a" stroke-width="0.6"/></g>
<g transform="rotate(6 127.00 366.50)"><path d="M127.60,354.50 L128.70,356.50 L129.50,358.50 L130.20,360.50 L130.80,362.50 L131.30,365.50 L131.60,369.50 L131.60,373.50 L131.10,375.50 L130.00,377.00 L128.20,377.90 L125.80,377.90 L124.00,377.00 L122.90,375.50 L122.40,373.50 L122.40,369.50 L122.70,365.50 L123.20,362.50 L123.80,360.50 L124.50,358.50 L125.30,356.50 L126.40,354.50 Z" fill="url(#mg)" stroke="#b0b0b0" stroke-width="0.5" stroke-linejoin="round" filter="url(#b3)"/><ellipse cx="126.40" cy="362.50" rx="1.3" ry="2.2" fill="#999" opacity="0.35" filter="url(#b3)"/><ellipse cx="128.20" cy="367.50" rx="1.2" ry="1.6" fill="#aaa" opacity="0.3" filter="url(#b3)"/><ellipse cx="125.50" cy="370.50" rx="1.0" ry="1.4" fill="#aaa" opacity="0.25" filter="url(#b3)"/><path d="M124.40,376.00 L123.40,380.50 M129.60,376.00 L130.60,380.50 M127.00,377.00 L127.40,381.50" stroke="#9a9a9a" stroke-width="0.6"/></g>
<g><path d="M139.70,354.50 L140.80,356.50 L141.60,358.50 L142.30,360.50 L142.90,362.50 L143.40,365.50 L143.70,369.50 L143.70,373.50 L143.20,375.50 L142.10,377.00 L140.30,377.90 L137.90,377.90 L136.10,377.00 L135.00,375.50 L134.50,373.50 L134.50,369.50 L134.80,365.50 L135.30,362.50 L135.90,360.50 L136.60,358.50 L137.40,356.50 L138.50,354.50 Z" fill="url(#mg)" stroke="#b0b0b0" stroke-width="0.5" stroke-linejoin="round" filter="url(#b3)"/><ellipse cx="138.50" cy="362.50" rx="1.3" ry="2.2" fill="#999" opacity="0.35" filter="url(#b3)"/><ellipse cx="140.30" cy="367.50" rx="1.2" ry="1.6" fill="#aaa" opacity="0.3" filter="url(#b3)"/><ellipse cx="137.60" cy="370.50" rx="1.0" ry="1.4" fill="#aaa" opacity="0.25" filter="url(#b3)"/><path d="M136.50,376.00 L135.50,380.50 M141.70,376.00 L142.70,380.50 M139.10,377.00 L139.50,381.50" stroke="#9a9a9a" stroke-width="0.6"/></g>
<g><path d="M151.80,354.50 L152.90,356.50 L153.70,358.50 L154.40,360.50 L155.00,362.50 L155.50,365.50 L155.80,369.50 L155.80,373.50 L155.30,375.50 L154.20,377.00 L152.40,377.90 L150.00,377.90 L148.20,377.00 L147.10,375.50 L146.60,373.50 L146.60,369.50 L146.90,365.50 L147.40,362.50 L148.00,360.50 L148.70,358.50 L149.50,356.50 L150.60,354.50 Z" fill="url(#mg)" stroke="#b0b0b0" stroke-width="0.5" stroke-linejoin="round" filter="url(#b3)"/><ellipse cx="150.60" cy="362.50" rx="1.3" ry="2.2" fill="#999" opacity="0.35" filter="url(#b3)"/><ellipse cx="152.40" cy="367.50" rx="1.2" ry="1.6" fill="#aaa" opacity="0.3" filter="url(#b3)"/><ellipse cx="149.70" cy="370.50" rx="1.0" ry="1.4" fill="#aaa" opacity="0.25" filter="url(#b3)"/><path d="M148.60,376.00 L147.60,380.50 M153.80,376.00 L154.80,380.50 M151.20,377.00 L151.60,381.50" stroke="#9a9a9a" stroke-width="0.6"/></g>
<g transform="rotate(4 40.10 397.20)"><path d="M40.70,385.20 L41.80,387.20 L42.60,389.20 L43.30,391.20 L43.90,393.20 L44.40,396.20 L44.70,400.20 L44.70,404.20 L44.20,406.20 L43.10,407.70 L41.30,408.60 L38.90,408.60 L37.10,407.70 L36.00,406.20 L35.50,404.20 L35.50,400.20 L35.80,396.20 L36.30,393.20 L36.90,391.20 L37.60,389.20 L38.40,387.20 L39.50,385.20 Z" fill="url(#mg)" stroke="#b0b0b0" stroke-width="0.5" stroke-linejoin="round" filter="url(#b3)"/><ellipse cx="39.50" cy="393.20" rx="1.3" ry="2.2" fill="#999" opacity="0.35" filter="url(#b3)"/><ellipse cx="41.30" cy="398.20" rx="1.2" ry="1.6" fill="#aaa" opacity="0.3" filter="url(#b3)"/><ellipse cx="38.60" cy="401.20" rx="1.0" ry="1.4" fill="#aaa" opacity="0.25" filter="url(#b3)"/><path d="M37.50,406.70 L36.50,411.20 M42.70,406.70 L43.70,411.20 M40.10,407.70 L40.50,412.20" stroke="#9a9a9a" stroke-width="0.6"/></g>
<g transform="rotate(6 52.90 397.20)"><path d="M53.50,385.20 L54.60,387.20 L55.40,389.20 L56.10,391.20 L56.70,393.20 L57.20,396.20 L57.50,400.20 L57.50,404.20 L57.00,406.20 L55.90,407.70 L54.10,408.60 L51.70,408.60 L49.90,407.70 L48.80,406.20 L48.30,404.20 L48.30,400.20 L48.60,396.20 L49.10,393.20 L49.70,391.20 L50.40,389.20 L51.20,387.20 L52.30,385.20 Z" fill="url(#mg)" stroke="#b0b0b0" stroke-width="0.5" stroke-linejoin="round" filter="url(#b3)"/><ellipse cx="52.30" cy="393.20" rx="1.3" ry="2.2" fill="#999" opacity="0.35" filter="url(#b3)"/><ellipse cx="54.10" cy="398.20" rx="1.2" ry="1.6" fill="#aaa" opacity="0.3" filter="url(#b3)"/><ellipse cx="51.40" cy="401.20" rx="1.0" ry="1.4" fill="#aaa" opacity="0.25" filter="url(#b3)"/><path d="M50.30,406.70 L49.30,411.20 M55.50,406.70 L56.50,411.20 M52.90,407.70 L53.30,412.20" stroke="#9a9a9a" stroke-width="0.6"/></g>
<g><path d="M64.90,385.20 L66.00,387.20 L66.80,389.20 L67.50,391.20 L68.10,393.20 L68.60,396.20 L68.90,400.20 L68.90,404.20 L68.40,406.20 L67.30,407.70 L65.50,408.60 L63.10,408.60 L61.30,407.70 L60.20,406.20 L59.70,404.20 L59.70,400.20 L60.00,396.20 L60.50,393.20 L61.10,391.20 L61.80,389.20 L62.60,387.20 L63.70,385.20 Z" fill="url(#mg)" stroke="#b0b0b0" stroke-width="0.5" stroke-linejoin="round" filter="url(#b3)"/><ellipse cx="63.70" cy="393.20" rx="1.3" ry="2.2" fill="#999" opacity="0.35" filter="url(#b3)"/><ellipse cx="65.50" cy="398.20" rx="1.2" ry="1.6" fill="#aaa" opacity="0.3" filter="url(#b3)"/><ellipse cx="62.80" cy="401.20" rx="1.0" ry="1.4" fill="#aaa" opacity="0.25" filter="url(#b3)"/><path d="M61.70,406.70 L60.70,411.20 M66.90,406.70 L67.90,411.20 M64.30,407.70 L64.70,412.20" stroke="#9a9a9a" stroke-width="0.6"/></g>
<g><path d="M77.00,385.20 L78.10,387.20 L78.90,389.20 L79.60,391.20 L80.20,393.20 L80.70,396.20 L81.00,400.20 L81.00,404.20 L80.50,406.20 L79.40,407.70 L77.60,408.60 L75.20,408.60 L73.40,407.70 L72.30,406.20 L71.80,404.20 L71.80,400.20 L72.10,396.20 L72.60,393.20 L73.20,391.20 L73.90,389.20 L74.70,387.20 L75.80,385.20 Z" fill="url(#mg)" stroke="#b0b0b0" stroke-width="0.5" stroke-linejoin="round" filter="url(#b3)"/><ellipse cx="75.80" cy="393.20" rx="1.3" ry="2.2" fill="#999" opacity="0.35" filter="url(#b3)"/><ellipse cx="77.60" cy="398.20" rx="1.2" ry="1.6" fill="#aaa" opacity="0.3" filter="url(#b3)"/><ellipse cx="74.90" cy="401.20" rx="1.0" ry="1.4" fill="#aaa" opacity="0.25" filter="url(#b3)"/><path d="M73.80,406.70 L72.80,411.20 M79.00,406.70 L80.00,411.20 M76.40,407.70 L76.80,412.20" stroke="#9a9a9a" stroke-width="0.6"/></g>
<g><path d="M87.80,385.20 L88.90,387.20 L89.70,389.20 L90.40,391.20 L91.00,393.20 L91.50,396.20 L91.80,400.20 L91.80,404.20 L91.30,406.20 L90.20,407.70 L88.40,408.60 L86.00,408.60 L84.20,407.70 L83.10,406.20 L82.60,404.20 L82.60,400.20 L82.90,396.20 L83.40,393.20 L84.00,391.20 L84.70,389.20 L85.50,387.20 L86.60,385.20 Z" fill="url(#mg)" stroke="#b0b0b0" stroke-width="0.5" stroke-linejoin="round" filter="url(#b3)"/><ellipse cx="86.60" cy="393.20" rx="1.3" ry="2.2" fill="#999" opacity="0.35" filter="url(#b3)"/><ellipse cx="88.40" cy="398.20" rx="1.2" ry="1.6" fill="#aaa" opacity="0.3" filter="url(#b3)"/><ellipse cx="85.70" cy="401.20" rx="1.0" ry="1.4" fill="#aaa" opacity="0.25" filter="url(#b3)"/><path d="M84.60,406.70 L83.60,411.20 M89.80,406.70 L90.80,411.20 M87.20,407.70 L87.60,412.20" stroke="#9a9a9a" stroke-width="0.6"/></g>
<g transform="rotate(4 104.10 397.20)"><path d="M104.70,385.20 L105.80,387.20 L106.60,389.20 L107.30,391.20 L107.90,393.20 L108.40,396.20 L108.70,400.20 L108.70,404.20 L108.20,406.20 L107.10,407.70 L105.30,408.60 L102.90,408.60 L101.10,407.70 L100.00,406.20 L99.50,404.20 L99.50,400.20 L99.80,396.20 L100.30,393.20 L100.90,391.20 L101.60,389.20 L102.40,387.20 L103.50,385.20 Z" fill="url(#mg)" stroke="#b0b0b0" stroke-width="0.5" stroke-linejoin="round" filter="url(#b3)"/><ellipse cx="103.50" cy="393.20" rx="1.3" ry="2.2" fill="#999" opacity="0.35" filter="url(#b3)"/><ellipse cx="105.30" cy="398.20" rx="1.2" ry="1.6" fill="#aaa" opacity="0.3" filter="url(#b3)"/><ellipse cx="102.60" cy="401.20" rx="1.0" ry="1.4" fill="#aaa" opacity="0.25" filter="url(#b3)"/><path d="M101.50,406.70 L100.50,411.20 M106.70,406.70 L107.70,411.20 M104.10,407.70 L104.50,412.20" stroke="#9a9a9a" stroke-width="0.6"/></g>
<g transform="rotate(6 115.50 397.20)"><path d="M116.10,385.20 L117.20,387.20 L118.00,389.20 L118.70,391.20 L119.30,393.20 L119.80,396.20 L120.10,400.20 L120.10,404.20 L119.60,406.20 L118.50,407.70 L116.70,408.60 L114.30,408.60 L112.50,407.70 L111.40,406.20 L110.90,404.20 L110.90,400.20 L111.20,396.20 L111.70,393.20 L112.30,391.20 L113.00,389.20 L113.80,387.20 L114.90,385.20 Z" fill="url(#mg)" stroke="#b0b0b0" stroke-width="0.5" stroke-linejoin="round" filter="url(#b3)"/><ellipse cx="114.90" cy="393.20" rx="1.3" ry="2.2" fill="#999" opacity="0.35" filter="url(#b3)"/><ellipse cx="116.70" cy="398.20" rx="1.2" ry="1.6" fill="#aaa" opacity="0.3" filter="url(#b3)"/><ellipse cx="114.00" cy="401.20" rx="1.0" ry="1.4" fill="#aaa" opacity="0.25" filter="url(#b3)"/><path d="M112.90,406.70 L111.90,411.20 M118.10,406.70 L119.10,411.20 M115.50,407.70 L115.90,412.20" stroke="#9a9a9a" stroke-width="0.6"/></g>
<g><path d="M127.60,385.20 L128.70,387.20 L129.50,389.20 L130.20,391.20 L130.80,393.20 L131.30,396.20 L131.60,400.20 L131.60,404.20 L131.10,406.20 L130.00,407.70 L128.20,408.60 L125.80,408.60 L124.00,407.70 L122.90,406.20 L122.40,404.20 L122.40,400.20 L122.70,396.20 L123.20,393.20 L123.80,391.20 L124.50,389.20 L125.30,387.20 L126.40,385.20 Z" fill="url(#mg)" stroke="#b0b0b0" stroke-width="0.5" stroke-linejoin="round" filter="url(#b3)"/><ellipse cx="126.40" cy="393.20" rx="1.3" ry="2.2" fill="#999" opacity="0.35" filter="url(#b3)"/><ellipse cx="128.20" cy="398.20" rx="1.2" ry="1.6" fill="#aaa" opacity="0.3" filter="url(#b3)"/><ellipse cx="125.50" cy="401.20" rx="1.0" ry="1.4" fill="#aaa" opacity="0.25" filter="url(#b3)"/><path d="M124.40,406.70 L123.40,411.20 M129.60,406.70 L130.60,411.20 M127.00,407.70 L127.40,412.20" stroke="#9a9a9a" stroke-width="0.6"/></g>
<g><path d="M139.70,385.20 L140.80,387.20 L141.60,389.20 L142.30,391.20 L142.90,393.20 L143.40,396.20 L143.70,400.20 L143.70,404.20 L143.20,406.20 L142.10,407.70 L140.30,408.60 L137.90,408.60 L136.10,407.70 L135.00,406.20 L134.50,404.20 L134.50,400.20 L134.80,396.20 L135.30,393.20 L135.90,391.20 L136.60,389.20 L137.40,387.20 L138.50,385.20 Z" fill="url(#mg)" stroke="#b0b0b0" stroke-width="0.5" stroke-linejoin="round" filter="url(#b3)"/><ellipse cx="138.50" cy="393.20" rx="1.3" ry="2.2" fill="#999" opacity="0.35" filter="url(#b3)"/><ellipse cx="140.30" cy="398.20" rx="1.2" ry="1.6" fill="#aaa" opacity="0.3" filter="url(#b3)"/><ellipse cx="137.60" cy="401.20" rx="1.0" ry="1.4" fill="#aaa" opacity="0.25" filter="url(#b3)"/><path d="M136.50,406.70 L135.50,411.20 M141.70,406.70 L142.70,411.20 M139.10,407.70 L139.50,412.20" stroke="#9a9a9a" stroke-width="0.6"/></g>
<g><path d="M151.80,385.20 L152.90,387.20 L153.70,389.20 L154.40,391.20 L155.00,393.20 L155.50,396.20 L155.80,400.20 L155.80,404.20 L155.30,406.20 L154.20,407.70 L152.40,408.60 L150.00,408.60 L148.20,407.70 L147.10,406.20 L146.60,404.20 L146.60,400.20 L146.90,396.20 L147.40,393.20 L148.00,391.20 L148.70,389.20 L149.50,387.20 L150.60,385.20 Z" fill="url(#mg)" stroke="#b0b0b0" stroke-width="0.5" stroke-linejoin="round" filter="url(#b3)"/><ellipse cx="150.60" cy="393.20" rx="1.3" ry="2.2" fill="#999" opacity="0.35" filter="url(#b3)"/><ellipse cx="152.40" cy="398.20" rx="1.2" ry="1.6" fill="#aaa" opacity="0.3" filter="url(#b3)"/><ellipse cx="149.70" cy="401.20" rx="1.0" ry="1.4" fill="#aaa" opacity="0.25" filter="url(#b3)"/><path d="M148.60,406.70 L147.60,411.20 M153.80,406.70 L154.80,411.20 M151.20,407.70 L151.60,412.20" stroke="#9a9a9a" stroke-width="0.6"/></g>
<ellipse cx="64.50" cy="342.00" rx="1.60" ry="1.60" fill="none" stroke="#1a3ad8" stroke-width="1.2" filter="url(#b3)"/>
<circle cx="53.50" cy="345.00" r="1.00" fill="#1a2bd0" />
<path d="M111.5,325.5 C109,330 108.8,337 110.5,342 C112,345.5 116,346 119,344" fill="none" stroke="#1a30c8" stroke-width="2.6" filter="url(#b3)"/>
<ellipse cx="114.50" cy="339.50" rx="2.60" ry="3.20" fill="#4a90d8" opacity="0.8" filter="url(#b3)"/>
<ellipse cx="112.20" cy="330.70" rx="1.40" ry="1.40" fill="#1a30c8" filter="url(#b3)"/>
<ellipse cx="117.50" cy="331.00" rx="0.80" ry="1.00" fill="#3040c0" opacity="0.7" filter="url(#b3)"/>
<ellipse cx="128.60" cy="328.20" rx="1.20" ry="1.80" fill="#2038c8" opacity="0.9" filter="url(#b3)"/>
<ellipse cx="124.30" cy="340.50" rx="2.20" ry="2.20" fill="none" stroke="#1a30c8" stroke-width="1.6" filter="url(#b3)"/>
<ellipse cx="124.30" cy="340.50" rx="1.00" ry="1.00" fill="#60b0e0" filter="url(#b3)"/>
<path d="M139.5,330 C135,329.5 133.5,333 134.5,335.5 C135.5,337 138,336.5 139.5,335" fill="none" stroke="#1a30c8" stroke-width="2.2" filter="url(#b3)"/>
<ellipse cx="137.20" cy="332.80" rx="1.50" ry="1.40" fill="#3a90d0" filter="url(#b3)"/>
<ellipse cx="150.50" cy="334.50" rx="0.70" ry="0.70" fill="#333" filter="url(#b3)"/>
<ellipse cx="41.20" cy="365.20" rx="2.20" ry="2.20" fill="none" stroke="#1a3ad8" stroke-width="1.5" filter="url(#b3)"/>
<ellipse cx="41.20" cy="365.20" rx="1.00" ry="1.00" fill="#40a0d0" opacity="1" filter="url(#b3)"/>
<ellipse cx="43.10" cy="375.00" rx="2.60" ry="2.60" fill="none" stroke="#1a3ad8" stroke-width="1.7" filter="url(#b3)"/>
<ellipse cx="43.10" cy="375.00" rx="1.20" ry="1.20" fill="#5080e0" opacity="1" filter="url(#b3)"/>
<ellipse cx="55.40" cy="376.00" rx="1.40" ry="1.20" fill="#2a40c8" opacity="1" filter="url(#b3)"/>
<ellipse cx="62.80" cy="360.80" rx="1.00" ry="1.20" fill="#3050d0" opacity="0.8" filter="url(#b3)"/>
<ellipse cx="61.50" cy="368.20" rx="1.80" ry="1.80" fill="none" stroke="#1a3ad8" stroke-width="1.4" filter="url(#b3)"/>
<ellipse cx="63.50" cy="375.60" rx="3.00" ry="2.20" fill="#3a38c0" opacity="0.9" filter="url(#b3)"/>
<ellipse cx="67.70" cy="373.80" rx="1.60" ry="1.60" fill="none" stroke="#e08020" stroke-width="1.0" filter="url(#b3)"/>
<ellipse cx="67.70" cy="373.80" rx="0.80" ry="0.80" fill="#40b040" opacity="1" filter="url(#b3)"/>
<ellipse cx="77.50" cy="373.20" rx="1.60" ry="2.00" fill="#2a48d0" opacity="0.9" filter="url(#b3)"/>
<ellipse cx="78.80" cy="376.50" rx="1.60" ry="1.20" fill="#2030c0" opacity="1" filter="url(#b3)"/>
<ellipse cx="75.00" cy="376.00" rx="1.00" ry="1.00" fill="#30b0c0" opacity="0.8" filter="url(#b3)"/>
<ellipse cx="88.00" cy="367.30" rx="4.60" ry="10.20" fill="#1a30c8" opacity="1" filter="url(#b3)"/>
<ellipse cx="88.30" cy="367.80" rx="3.60" ry="8.60" fill="#30a0a0" opacity="1" filter="url(#b3)"/>
<ellipse cx="88.60" cy="368.50" rx="3.00" ry="7.40" fill="#e02020" opacity="1" filter="url(#b3)"/>
<ellipse cx="88.00" cy="368.80" rx="2.20" ry="5.20" fill="#e0d020" opacity="1" filter="url(#b3)"/>
<ellipse cx="87.60" cy="369.50" rx="1.50" ry="3.60" fill="#f2f2f2" opacity="1" filter="url(#b3)"/>
<ellipse cx="86.20" cy="361.50" rx="1.60" ry="1.60" fill="#40b050" opacity="0.9" filter="url(#b3)"/>
<ellipse cx="90.50" cy="374.50" rx="1.50" ry="1.50" fill="#30c060" opacity="0.9" filter="url(#b3)"/>
<ellipse cx="39.50" cy="403.50" rx="2.60" ry="3.00" fill="#1a2bd0" opacity="0.9" filter="url(#b3)"/>
<ellipse cx="41.50" cy="405.80" rx="2.00" ry="1.40" fill="#2a40d0" opacity="0.9" filter="url(#b3)"/>
<ellipse cx="40.50" cy="399.00" rx="1.40" ry="1.20" fill="#7088e0" opacity="0.6" filter="url(#b3)"/>
<ellipse cx="55.00" cy="393.50" rx="1.50" ry="2.50" fill="#2a3ad0" opacity="0.9" filter="url(#b3)"/>
<ellipse cx="55.50" cy="400.00" rx="1.80" ry="2.00" fill="#1a30c8" opacity="0.9" filter="url(#b3)"/>
<ellipse cx="54.20" cy="405.00" rx="2.20" ry="1.80" fill="#2a40d0" opacity="0.9" filter="url(#b3)"/>
<ellipse cx="52.00" cy="397.00" rx="1.00" ry="1.00" fill="#7060c0" opacity="0.6" filter="url(#b3)"/>
<ellipse cx="64.50" cy="398.20" rx="4.60" ry="10.40" fill="#1a2ec8" opacity="1" filter="url(#b3)"/>
<ellipse cx="64.50" cy="399.50" rx="3.80" ry="8.40" fill="#30a8c0" opacity="1" filter="url(#b3)"/>
<ellipse cx="62.50" cy="394.50" rx="1.80" ry="2.20" fill="#2a40d0" opacity="1" filter="url(#b3)"/>
<ellipse cx="66.80" cy="394.00" rx="1.80" ry="2.60" fill="#f0f0f0" opacity="1" filter="url(#b3)"/>
<ellipse cx="63.00" cy="401.50" rx="2.00" ry="2.00" fill="#e0c020" opacity="1" filter="url(#b3)"/>
<ellipse cx="62.50" cy="401.50" rx="1.20" ry="1.20" fill="#e02020" opacity="1" filter="url(#b3)"/>
<ellipse cx="66.80" cy="404.80" rx="2.20" ry="2.40" fill="#e02020" opacity="1" filter="url(#b3)"/>
<ellipse cx="61.80" cy="406.50" rx="1.40" ry="1.40" fill="#e0c020" opacity="1" filter="url(#b3)"/>
<ellipse cx="65.00" cy="398.50" rx="1.20" ry="1.20" fill="#40c050" opacity="1" filter="url(#b3)"/>
<ellipse cx="63.00" cy="390.00" rx="1.40" ry="1.20" fill="#3040d0" opacity="1" filter="url(#b3)"/>
<ellipse cx="76.40" cy="397.50" rx="5.00" ry="11.00" fill="#1a2ec8" opacity="1" filter="url(#b3)"/>
<ellipse cx="76.40" cy="397.80" rx="4.20" ry="9.60" fill="#38b0b0" opacity="1" filter="url(#b3)"/>
<ellipse cx="76.40" cy="398.00" rx="3.40" ry="8.20" fill="#70c040" opacity="1" filter="url(#b3)"/>
<ellipse cx="74.00" cy="392.60" rx="2.30" ry="2.50" fill="#e02020" opacity="1" filter="url(#b3)"/>
<ellipse cx="78.60" cy="393.20" rx="1.40" ry="1.60" fill="#e0c020" opacity="1" filter="url(#b3)"/>
<ellipse cx="77.20" cy="398.20" rx="2.20" ry="2.20" fill="#e02020" opacity="1" filter="url(#b3)"/>
<ellipse cx="74.20" cy="399.50" rx="1.20" ry="1.20" fill="#3050d0" opacity="1" filter="url(#b3)"/>
<ellipse cx="79.20" cy="403.50" rx="1.80" ry="2.20" fill="#e02020" opacity="1" filter="url(#b3)"/>
<ellipse cx="75.00" cy="404.50" rx="1.80" ry="1.80" fill="#e0c020" opacity="1" filter="url(#b3)"/>
<ellipse cx="74.50" cy="405.00" rx="1.00" ry="1.00" fill="#e02020" opacity="1" filter="url(#b3)"/>
<ellipse cx="78.00" cy="407.50" rx="1.40" ry="1.00" fill="#3050d0" opacity="1" filter="url(#b3)"/>
<ellipse cx="87.40" cy="396.50" rx="4.20" ry="9.60" fill="#1e36cc" opacity="1" filter="url(#b3)"/>
<ellipse cx="86.40" cy="393.50" rx="1.60" ry="3.40" fill="#f0f0f0" opacity="1" filter="url(#b3)"/>
<ellipse cx="89.00" cy="398.50" rx="1.40" ry="2.20" fill="#40a8d8" opacity="1" filter="url(#b3)"/>
<ellipse cx="87.00" cy="403.00" rx="1.50" ry="2.00" fill="#6aa8e0" opacity="1" filter="url(#b3)"/>
<ellipse cx="85.50" cy="388.50" rx="1.00" ry="1.20" fill="#e8e8f0" opacity="0.8" filter="url(#b3)"/>
<ellipse cx="76.40" cy="333.80" rx="3.60" ry="2.80" fill="#1a30c8" opacity="1" filter="url(#b3)"/>
<ellipse cx="74.60" cy="333.60" rx="1.00" ry="1.00" fill="#e8e8f0" opacity="1" filter="url(#b3)"/>
<ellipse cx="78.20" cy="333.60" rx="1.00" ry="1.00" fill="#e8e8f0" opacity="1" filter="url(#b3)"/>
<ellipse cx="76.60" cy="342.50" rx="3.20" ry="3.80" fill="#1a30c8" opacity="1" filter="url(#b3)"/>
<ellipse cx="76.60" cy="342.50" rx="1.40" ry="1.80" fill="#e8e8f0" opacity="1" filter="url(#b3)"/>
<ellipse cx="79.00" cy="344.00" rx="1.00" ry="1.20" fill="#40c040" opacity="1" filter="url(#b3)"/>
<path d="M101,371 C100.5,375 103,377 106.5,375.5 C108,374.5 107.5,373 106,373.5" fill="none" stroke="#1a3ad0" stroke-width="1.7" filter="url(#b3)"/>
<ellipse cx="129.50" cy="374.50" rx="1.50" ry="1.50" fill="none" stroke="#1a3ad8" stroke-width="1.2" filter="url(#b3)"/>
<ellipse cx="141.50" cy="374.50" rx="1.70" ry="1.70" fill="none" stroke="#1a3ad8" stroke-width="1.3" filter="url(#b3)"/>
<circle cx="148.70" cy="371.00" r="0.90" fill="#2040c0" />
<circle cx="150.50" cy="374.50" r="0.70" fill="#2040c0" />
<rect x="160.10" y="290.00" width="3.40" height="87.80" fill="url(#cb)" />
<line x1="163.50" y1="290.50" x2="164.60" y2="290.50" stroke="#777" stroke-width="0.4" />
<line x1="163.50" y1="293.45" x2="164.60" y2="293.45" stroke="#777" stroke-width="0.4" />
<line x1="163.50" y1="296.40" x2="164.60" y2="296.40" stroke="#777" stroke-width="0.4" />
<line x1="163.50" y1="299.35" x2="164.60" y2="299.35" stroke="#777" stroke-width="0.4" />
<line x1="163.50" y1="302.30" x2="164.60" y2="302.30" stroke="#777" stroke-width="0.4" />
<line x1="163.50" y1="305.25" x2="164.60" y2="305.25" stroke="#777" stroke-width="0.4" />
<line x1="163.50" y1="308.20" x2="164.60" y2="308.20" stroke="#777" stroke-width="0.4" />
<line x1="163.50" y1="311.15" x2="164.60" y2="311.15" stroke="#777" stroke-width="0.4" />
<line x1="163.50" y1="314.10" x2="164.60" y2="314.10" stroke="#777" stroke-width="0.4" />
<line x1="163.50" y1="317.05" x2="164.60" y2="317.05" stroke="#777" stroke-width="0.4" />
<line x1="163.50" y1="320.00" x2="164.60" y2="320.00" stroke="#777" stroke-width="0.4" />
<line x1="163.50" y1="322.95" x2="164.60" y2="322.95" stroke="#777" stroke-width="0.4" />
<line x1="163.50" y1="325.90" x2="164.60" y2="325.90" stroke="#777" stroke-width="0.4" />
<line x1="163.50" y1="328.85" x2="164.60" y2="328.85" stroke="#777" stroke-width="0.4" />
<line x1="163.50" y1="331.80" x2="164.60" y2="331.80" stroke="#777" stroke-width="0.4" />
<line x1="163.50" y1="334.75" x2="164.60" y2="334.75" stroke="#777" stroke-width="0.4" />
<line x1="163.50" y1="337.70" x2="164.60" y2="337.70" stroke="#777" stroke-width="0.4" />
<line x1="163.50" y1="340.65" x2="164.60" y2="340.65" stroke="#777" stroke-width="0.4" />
<line x1="163.50" y1="343.60" x2="164.60" y2="343.60" stroke="#777" stroke-width="0.4" />
<line x1="163.50" y1="346.55" x2="164.60" y2="346.55" stroke="#777" stroke-width="0.4" />
<line x1="163.50" y1="349.50" x2="164.60" y2="349.50" stroke="#777" stroke-width="0.4" />
<line x1="163.50" y1="352.45" x2="164.60" y2="352.45" stroke="#777" stroke-width="0.4" />
<line x1="163.50" y1="355.40" x2="164.60" y2="355.40" stroke="#777" stroke-width="0.4" />
<line x1="163.50" y1="358.35" x2="164.60" y2="358.35" stroke="#777" stroke-width="0.4" />
<line x1="163.50" y1="361.30" x2="164.60" y2="361.30" stroke="#777" stroke-width="0.4" />
<line x1="163.50" y1="364.25" x2="164.60" y2="364.25" stroke="#777" stroke-width="0.4" />
<line x1="163.50" y1="367.20" x2="164.60" y2="367.20" stroke="#777" stroke-width="0.4" />
<line x1="163.50" y1="370.15" x2="164.60" y2="370.15" stroke="#777" stroke-width="0.4" />
<line x1="163.50" y1="373.10" x2="164.60" y2="373.10" stroke="#777" stroke-width="0.4" />
<line x1="163.50" y1="376.05" x2="164.60" y2="376.05" stroke="#777" stroke-width="0.4" />
<line x1="163.50" y1="290.50" x2="166.00" y2="290.50" stroke="#555" stroke-width="0.6" />
<text x="168.40" y="293.30" font-size="7.8" text-anchor="start" fill="#333" stroke="#333" stroke-width="0.13" >1.0</text>
<line x1="163.50" y1="309.20" x2="166.00" y2="309.20" stroke="#555" stroke-width="0.6" />
<text x="168.40" y="312.00" font-size="7.8" text-anchor="start" fill="#333" stroke="#333" stroke-width="0.13" >0.8</text>
<line x1="163.50" y1="324.90" x2="166.00" y2="324.90" stroke="#555" stroke-width="0.6" />
<text x="168.40" y="327.70" font-size="7.8" text-anchor="start" fill="#333" stroke="#333" stroke-width="0.13" >0.6</text>
<line x1="163.50" y1="345.60" x2="166.00" y2="345.60" stroke="#555" stroke-width="0.6" />
<text x="168.40" y="348.40" font-size="7.8" text-anchor="start" fill="#333" stroke="#333" stroke-width="0.13" >0.4</text>
<line x1="163.50" y1="363.70" x2="166.00" y2="363.70" stroke="#555" stroke-width="0.6" />
<text x="168.40" y="366.50" font-size="7.8" text-anchor="start" fill="#333" stroke="#333" stroke-width="0.13" >0.2</text>
<text x="168.40" y="337.20" font-size="7.6" text-anchor="start" fill="#333" stroke="#333" stroke-width="0.13" >× 10<tspan font-size="5" dy="-2.8">9</tspan></text>
<text x="161.00" y="385.60" font-size="6.1" text-anchor="start" fill="#333" stroke="#333" stroke-width="0.13" >Radiance</text>
<text x="161.00" y="392.50" font-size="6.1" text-anchor="start" fill="#333" stroke="#333" stroke-width="0.13" >(p/sec/cm<tspan font-size="4" dy="-2">2</tspan><tspan dy="2">/sr)</tspan></text>
<text x="161.00" y="399.90" font-size="6.1" text-anchor="start" fill="#333" stroke="#333" stroke-width="0.13" >Color Scale</text>
<text x="161.00" y="407.30" font-size="6.1" text-anchor="start" fill="#333" stroke="#333" stroke-width="0.13" >Min = 5.00E7</text>
<text x="161.00" y="414.50" font-size="6.1" text-anchor="start" fill="#333" stroke="#333" stroke-width="0.13" >Max = 1.00E9</text>
<text x="208.00" y="285.00" font-size="11" text-anchor="start" fill="#000" font-weight="bold" >H</text>
<line x1="249.40" y1="293.50" x2="249.40" y2="351.70" stroke="#231f20" stroke-width="1" />
<line x1="248.80" y1="351.20" x2="336.50" y2="351.20" stroke="#231f20" stroke-width="1" />
<line x1="246.60" y1="296.60" x2="249.40" y2="296.60" stroke="#231f20" stroke-width="0.8" />
<line x1="246.60" y1="318.40" x2="249.40" y2="318.40" stroke="#231f20" stroke-width="0.8" />
<line x1="246.60" y1="342.30" x2="249.40" y2="342.30" stroke="#231f20" stroke-width="0.8" />
<text x="244.20" y="299.70" font-size="8.2" text-anchor="end" fill="#231f20" stroke="#231f20" stroke-width="0.13" >1×10<tspan font-size="5.8" dy="-3.2">9</tspan></text>
<text x="244.20" y="320.50" font-size="8.2" text-anchor="end" fill="#231f20" stroke="#231f20" stroke-width="0.13" >5×10<tspan font-size="5.8" dy="-3.2">8</tspan></text>
<text x="243.80" y="344.60" font-size="8.0" text-anchor="end" fill="#231f20" stroke="#231f20" stroke-width="0.13" >0</text>
<text x="216.00" y="322.30" font-size="8.9" text-anchor="middle" fill="#231f20" stroke="#231f20" stroke-width="0.26" textLength="48.4" lengthAdjust="spacingAndGlyphs" transform="rotate(-90 216.00 322.30)" >Average radiance</text>
<line x1="259.20" y1="351.20" x2="259.20" y2="353.40" stroke="#231f20" stroke-width="0.8" />
<text x="259.20" y="364.80" font-size="7.6" text-anchor="middle" fill="#231f20" stroke="#231f20" stroke-width="0.13" >0</text>
<line x1="282.00" y1="351.20" x2="282.00" y2="353.40" stroke="#231f20" stroke-width="0.8" />
<text x="282.00" y="364.80" font-size="7.6" text-anchor="middle" fill="#231f20" stroke="#231f20" stroke-width="0.13" >5</text>
<line x1="304.40" y1="351.20" x2="304.40" y2="353.40" stroke="#231f20" stroke-width="0.8" />
<text x="304.40" y="364.80" font-size="7.6" text-anchor="middle" fill="#231f20" stroke="#231f20" stroke-width="0.13" >10</text>
<line x1="327.50" y1="351.20" x2="327.50" y2="353.40" stroke="#231f20" stroke-width="0.8" />
<text x="327.50" y="364.80" font-size="7.6" text-anchor="middle" fill="#231f20" stroke="#231f20" stroke-width="0.13" >20</text>
<text x="292.70" y="376.20" font-size="9.4" text-anchor="middle" fill="#231f20" stroke="#231f20" stroke-width="0.26" textLength="13.4" lengthAdjust="spacingAndGlyphs" >Days</text>
<line x1="252.00" y1="342.00" x2="257.70" y2="342.00" stroke="#e08090" stroke-width="1.0" />
<line x1="260.80" y1="342.00" x2="267.00" y2="342.00" stroke="#1f4f80" stroke-width="1.4" />
<text x="264.00" y="339.20" font-size="7.2" text-anchor="middle" fill="#444" stroke="#444" stroke-width="0.13" >ns</text>
<rect x="275.30" y="339.20" width="4.20" height="3.60" fill="#e86070" stroke="#e05a64" stroke-width="0.5"/>
<line x1="274.80" y1="341.20" x2="279.80" y2="341.20" stroke="#c01830" stroke-width="1.0" />
<line x1="277.40" y1="338.60" x2="277.40" y2="343.20" stroke="#c01830" stroke-width="0.7" />
<rect x="283.4" y="337.6" width="5.8" height="5.4" rx="2" fill="#2a5a8c"/>
<ellipse cx="286.30" cy="339.60" rx="1.60" ry="1.20" fill="#8ab0d4" filter="url(#b3)"/>
<text x="286.00" y="335.80" font-size="7.2" text-anchor="middle" fill="#444" stroke="#444" stroke-width="0.13" >ns</text>
<line x1="300.30" y1="330.80" x2="300.30" y2="335.20" stroke="#e05a64" stroke-width="0.7" />
<line x1="299.00" y1="330.80" x2="301.60" y2="330.80" stroke="#e05a64" stroke-width="0.7" />
<rect x="297.70" y="335.20" width="5.30" height="6.00" fill="#f2908a" stroke="#e05a64" stroke-width="0.6"/>
<line x1="297.70" y1="339.50" x2="303.00" y2="339.50" stroke="#e05a64" stroke-width="0.9" />
<line x1="300.30" y1="341.20" x2="300.30" y2="343.50" stroke="#e05a64" stroke-width="0.7" />
<rect x="306.30" y="341.00" width="5.20" height="2.20" fill="#1f4f80" />
<text x="308.90" y="338.40" font-size="7" text-anchor="middle" fill="#231f20" stroke="#231f20" stroke-width="0.13" >*</text>
<line x1="323.00" y1="302.50" x2="323.00" y2="313.00" stroke="#e05a64" stroke-width="0.7" />
<line x1="321.60" y1="302.50" x2="324.40" y2="302.50" stroke="#e05a64" stroke-width="0.7" />
<rect x="320.40" y="313.00" width="5.20" height="26.00" fill="#f2908a" stroke="#e05a64" stroke-width="0.6"/>
<line x1="320.40" y1="337.20" x2="325.60" y2="337.20" stroke="#e05a64" stroke-width="1.0" />
<line x1="328.80" y1="342.00" x2="334.20" y2="342.00" stroke="#1f4f80" stroke-width="1.4" />
<text x="333.20" y="338.80" font-size="7" text-anchor="middle" fill="#231f20" stroke="#231f20" stroke-width="0.13" >****</text>
<rect x="257.70" y="386.20" width="5.80" height="5.00" fill="#cc1030" />
<text x="266.30" y="391.40" font-size="7.1" text-anchor="start" fill="#231f20" stroke="#231f20" stroke-width="0.13" >vehicle</text>
<rect x="257.70" y="397.00" width="5.80" height="5.00" fill="#1f4f80" />
<text x="266.30" y="402.30" font-size="7.1" text-anchor="start" fill="#231f20" stroke="#231f20" stroke-width="0.13" >Indisulam 20 mg/kg</text>
<text x="347.40" y="285.40" font-size="12" text-anchor="start" fill="#000" font-weight="bold" >I</text>
<text x="434.20" y="285.80" font-size="9.6" text-anchor="middle" fill="#231f20" stroke="#231f20" stroke-width="0.13" >H929</text>
<text x="400.00" y="298.00" font-size="8.3" text-anchor="middle" fill="#231f20" stroke="#231f20" stroke-width="0.13" >vec</text>
<line x1="388.50" y1="301.70" x2="410.20" y2="301.70" stroke="#231f20" stroke-width="0.8" />
<text x="435.40" y="298.00" font-size="8.3" text-anchor="middle" fill="#231f20" stroke="#231f20" stroke-width="0.13" >RBM39</text>
<line x1="424.20" y1="301.70" x2="447.00" y2="301.70" stroke="#231f20" stroke-width="0.8" />
<text x="454.00" y="298.00" font-size="8.0" text-anchor="start" fill="#231f20" stroke="#231f20" stroke-width="0.13" >RBM39<tspan font-size="5.6" dy="-3.2">G268V</tspan><tspan dy="3.2">-flag</tspan></text>
<line x1="457.50" y1="301.70" x2="502.70" y2="301.70" stroke="#231f20" stroke-width="0.8" />
<text x="347.80" y="311.40" font-size="7.8" text-anchor="start" fill="#231f20" stroke="#231f20" stroke-width="0.13" >Indisulam</text>
<text x="390.20" y="311.40" font-size="8.2" text-anchor="middle" fill="#231f20" stroke="#231f20" stroke-width="0.13" >0</text>
<text x="408.50" y="311.40" font-size="8.2" text-anchor="middle" fill="#231f20" stroke="#231f20" stroke-width="0.13" >20</text>
<text x="426.40" y="311.40" font-size="8.2" text-anchor="middle" fill="#231f20" stroke="#231f20" stroke-width="0.13" >0</text>
<text x="444.50" y="311.40" font-size="8.2" text-anchor="middle" fill="#231f20" stroke="#231f20" stroke-width="0.13" >20</text>
<text x="460.30" y="311.40" font-size="8.2" text-anchor="middle" fill="#231f20" stroke="#231f20" stroke-width="0.13" >0</text>
<text x="478.20" y="311.40" font-size="8.2" text-anchor="middle" fill="#231f20" stroke="#231f20" stroke-width="0.13" >20</text>
<text x="489.40" y="311.40" font-size="7.4" text-anchor="start" fill="#231f20" stroke="#231f20" stroke-width="0.13" >(µM)</text>
<rect x="380.00" y="315.40" width="107.60" height="17.90" fill="#ececec" stroke="#3a3a3a" stroke-width="0.8"/>
<rect x="383.00" y="321.70" width="14.80" height="4.00" rx="1.60" fill="#080808" opacity="1" filter="url(#b1)"/>
<rect x="400.70" y="322.80" width="13.00" height="2.20" rx="1.10" fill="#9a9a9a" opacity="0.6" filter="url(#b1)"/>
<rect x="418.30" y="321.30" width="14.80" height="5.00" rx="1.60" fill="#050505" opacity="1" filter="url(#b1)"/>
<rect x="435.70" y="322.60" width="14.00" height="2.80" rx="1.40" fill="#2a2a2a" opacity="0.9" filter="url(#b1)"/>
<rect x="454.10" y="319.90" width="15.00" height="2.00" rx="1.00" fill="#1a1a1a" opacity="0.9" filter="url(#b1)"/>
<rect x="454.10" y="323.90" width="15.00" height="3.00" rx="1.50" fill="#0c0c0c" opacity="1" filter="url(#b1)"/>
<rect x="470.70" y="319.80" width="14.00" height="2.20" rx="1.10" fill="#0c0c0c" opacity="1" filter="url(#b1)"/>
<rect x="470.70" y="324.30" width="14.00" height="2.20" rx="1.10" fill="#555" opacity="0.8" filter="url(#b1)"/>
<rect x="380.00" y="335.70" width="107.60" height="17.80" fill="#e2e2e2" stroke="#3a3a3a" stroke-width="0.8"/>
<rect x="380.80" y="341.70" width="16.80" height="5.60" rx="1.60" fill="#080808" opacity="1" filter="url(#b1)"/>
<rect x="385.50" y="350.80" width="8.00" height="2.40" rx="1.20" fill="#222" opacity="0.9" filter="url(#b1)"/>
<rect x="400.70" y="343.60" width="13.00" height="3.20" rx="1.60" fill="#aaa" opacity="0.5" filter="url(#b1)"/>
<rect x="417.80" y="343.40" width="14.00" height="4.20" rx="1.60" fill="#0a0a0a" opacity="1" filter="url(#b1)"/>
<rect x="435.70" y="344.50" width="3.60" height="3.00" rx="1.50" fill="#111" opacity="0.9" filter="url(#b1)"/>
<rect x="438.50" y="344.70" width="10.00" height="2.20" rx="1.10" fill="#a0a0a0" opacity="0.5" filter="url(#b1)"/>
<rect x="453.60" y="342.30" width="16.00" height="5.00" rx="1.60" fill="#080808" opacity="1" filter="url(#b1)"/>
<rect x="470.70" y="342.30" width="14.00" height="4.60" rx="1.60" fill="#0a0a0a" opacity="1" filter="url(#b1)"/>
<rect x="390.50" y="338.00" width="2.20" height="2.20" rx="1.10" fill="#000" opacity="1" filter="url(#b1)"/>
<rect x="406.20" y="337.60" width="2.40" height="2.40" rx="1.20" fill="#000" opacity="1" filter="url(#b1)"/>
<rect x="416.90" y="338.20" width="1.80" height="1.80" rx="0.90" fill="#000" opacity="1" filter="url(#b1)"/>
<rect x="440.25" y="340.50" width="2.50" height="1.00" rx="0.50" fill="#444" opacity="0.8" filter="url(#b1)"/>
<rect x="380.00" y="356.90" width="107.60" height="16.60" fill="#dedede" stroke="#3a3a3a" stroke-width="0.8"/>
<rect x="418.50" y="366.30" width="68.00" height="6.20" rx="1.60" fill="#c8c8c8" opacity="0.8" filter="url(#b1)"/>
<rect x="383.65" y="361.50" width="14.50" height="2.60" rx="1.30" fill="#141414" opacity="0.95" filter="url(#b1)"/>
<rect x="400.70" y="362.90" width="13.00" height="1.80" rx="0.90" fill="#888" opacity="0.6" filter="url(#b1)"/>
<rect x="418.75" y="362.10" width="14.50" height="3.60" rx="1.60" fill="#0a0a0a" opacity="1" filter="url(#b1)"/>
<rect x="435.95" y="362.80" width="13.50" height="2.80" rx="1.40" fill="#1a1a1a" opacity="0.95" filter="url(#b1)"/>
<rect x="453.85" y="362.40" width="15.50" height="3.60" rx="1.60" fill="#0a0a0a" opacity="1" filter="url(#b1)"/>
<rect x="470.70" y="362.50" width="14.00" height="3.40" rx="1.60" fill="#111" opacity="1" filter="url(#b1)"/>
<rect x="380.00" y="377.40" width="107.60" height="16.40" fill="#eaeaea" stroke="#3a3a3a" stroke-width="0.8"/>
<rect x="382.50" y="383.50" width="16.00" height="3.40" rx="1.60" fill="#0a0a0a" opacity="1" filter="url(#b1)"/>
<rect x="399.45" y="383.60" width="15.50" height="3.40" rx="1.60" fill="#0a0a0a" opacity="1" filter="url(#b1)"/>
<rect x="418.00" y="383.50" width="16.00" height="3.40" rx="1.60" fill="#0a0a0a" opacity="1" filter="url(#b1)"/>
<rect x="434.95" y="383.60" width="15.50" height="3.40" rx="1.60" fill="#0a0a0a" opacity="1" filter="url(#b1)"/>
<rect x="453.60" y="383.30" width="16.00" height="3.60" rx="1.60" fill="#0a0a0a" opacity="1" filter="url(#b1)"/>
<rect x="469.95" y="383.30" width="15.50" height="3.60" rx="1.60" fill="#0a0a0a" opacity="1" filter="url(#b1)"/>
<text x="378.50" y="326.40" font-size="8.2" text-anchor="end" fill="#231f20" stroke="#231f20" stroke-width="0.13" >RBM39</text>
<text x="378.50" y="347.50" font-size="8.2" text-anchor="end" fill="#231f20" stroke="#231f20" stroke-width="0.13" >p65</text>
<text x="378.50" y="367.50" font-size="8.2" text-anchor="end" fill="#231f20" stroke="#231f20" stroke-width="0.13" >p-p65</text>
<text x="378.50" y="388.40" font-size="8.2" text-anchor="end" fill="#231f20" stroke="#231f20" stroke-width="0.13" >actin</text>
<text x="6.40" y="435.60" font-size="11" text-anchor="start" fill="#000" font-weight="bold" >J</text>
<text x="84.20" y="436.60" font-size="9.6" text-anchor="middle" fill="#231f20" stroke="#231f20" stroke-width="0.13" >H929</text>
<line x1="38.70" y1="441.50" x2="38.70" y2="515.90" stroke="#231f20" stroke-width="1" />
<line x1="38.30" y1="515.40" x2="126.00" y2="515.40" stroke="#231f20" stroke-width="1" />
<line x1="35.90" y1="515.40" x2="38.70" y2="515.40" stroke="#231f20" stroke-width="0.8" />
<text x="33.90" y="518.10" font-size="7.8" text-anchor="end" fill="#231f20" stroke="#231f20" stroke-width="0.13" >0</text>
<line x1="35.90" y1="491.50" x2="38.70" y2="491.50" stroke="#231f20" stroke-width="0.8" />
<text x="33.90" y="494.20" font-size="7.8" text-anchor="end" fill="#231f20" stroke="#231f20" stroke-width="0.13" >40</text>
<line x1="35.90" y1="467.60" x2="38.70" y2="467.60" stroke="#231f20" stroke-width="0.8" />
<text x="33.90" y="470.30" font-size="7.8" text-anchor="end" fill="#231f20" stroke="#231f20" stroke-width="0.13" >80</text>
<line x1="35.90" y1="443.70" x2="38.70" y2="443.70" stroke="#231f20" stroke-width="0.8" />
<text x="33.90" y="446.40" font-size="7.8" text-anchor="end" fill="#231f20" stroke="#231f20" stroke-width="0.13" >120</text>
<line x1="52.70" y1="515.40" x2="52.70" y2="517.60" stroke="#231f20" stroke-width="0.8" />
<text x="52.70" y="528.60" font-size="7.8" text-anchor="middle" fill="#231f20" stroke="#231f20" stroke-width="0.13" >0</text>
<line x1="73.10" y1="515.40" x2="73.10" y2="517.60" stroke="#231f20" stroke-width="0.8" />
<text x="73.10" y="528.60" font-size="7.8" text-anchor="middle" fill="#231f20" stroke="#231f20" stroke-width="0.13" >10</text>
<line x1="93.10" y1="515.40" x2="93.10" y2="517.60" stroke="#231f20" stroke-width="0.8" />
<text x="93.10" y="528.60" font-size="7.8" text-anchor="middle" fill="#231f20" stroke="#231f20" stroke-width="0.13" >15</text>
<line x1="113.50" y1="515.40" x2="113.50" y2="517.60" stroke="#231f20" stroke-width="0.8" />
<text x="113.50" y="528.60" font-size="7.8" text-anchor="middle" fill="#231f20" stroke="#231f20" stroke-width="0.13" >20</text>
<text x="87.80" y="541.60" font-size="9.2" text-anchor="middle" fill="#231f20" stroke="#231f20" stroke-width="0.26" textLength="36.8" lengthAdjust="spacingAndGlyphs" >Indisulam (µM)</text>
<text x="14.40" y="478.60" font-size="8.6" text-anchor="middle" fill="#231f20" stroke="#231f20" stroke-width="0.26" textLength="70" lengthAdjust="spacingAndGlyphs" transform="rotate(-90 14.40 478.60)" >Relative cell viability (%)</text>
<polyline points="52.70,455.65 73.10,479.55 93.10,488.51 113.50,494.49" fill="none" stroke="#4caf50" stroke-width="0.8" />
<path d="M51.00,454.35 L54.40,454.35 L52.70,457.25 Z" fill="none" stroke="#4caf50" stroke-width="0.7"/>
<path d="M71.40,478.25 L74.80,478.25 L73.10,481.15 Z" fill="none" stroke="#4caf50" stroke-width="0.7"/>
<path d="M91.40,487.21 L94.80,487.21 L93.10,490.11 Z" fill="none" stroke="#4caf50" stroke-width="0.7"/>
<path d="M111.80,493.19 L115.20,493.19 L113.50,496.09 Z" fill="none" stroke="#4caf50" stroke-width="0.7"/>
<polyline points="52.70,455.65 73.10,489.71 93.10,497.18 113.50,502.85" fill="none" stroke="#1f4f80" stroke-width="0.8" />
<rect x="51.30" y="454.25" width="2.80" height="2.80" fill="#1f4f80" />
<rect x="71.70" y="488.31" width="2.80" height="2.80" fill="#1f4f80" />
<rect x="91.70" y="495.78" width="2.80" height="2.80" fill="#1f4f80" />
<rect x="112.10" y="501.45" width="2.80" height="2.80" fill="#1f4f80" />
<polyline points="52.70,455.65 73.10,495.68 93.10,505.24 113.50,508.83" fill="none" stroke="#d0203a" stroke-width="0.8" />
<rect x="51.30" y="454.25" width="2.80" height="2.80" fill="#d0203a" />
<rect x="71.70" y="494.28" width="2.80" height="2.80" fill="#d0203a" />
<rect x="91.70" y="503.84" width="2.80" height="2.80" fill="#d0203a" />
<rect x="112.10" y="507.43" width="2.80" height="2.80" fill="#d0203a" />
<text x="73.10" y="476.20" font-size="6.5" text-anchor="middle" fill="#2e7d32" stroke="#2e7d32" stroke-width="0.13" >***</text>
<text x="73.10" y="489.00" font-size="6.5" text-anchor="middle" fill="#1f4f80" stroke="#1f4f80" stroke-width="0.13" >**</text>
<text x="93.10" y="487.80" font-size="6.5" text-anchor="middle" fill="#2e7d32" stroke="#2e7d32" stroke-width="0.13" >***</text>
<text x="93.10" y="495.80" font-size="6.5" text-anchor="middle" fill="#1f4f80" stroke="#1f4f80" stroke-width="0.13" >**</text>
<text x="113.50" y="494.00" font-size="6.5" text-anchor="middle" fill="#2e7d32" stroke="#2e7d32" stroke-width="0.13" >**</text>
<text x="113.50" y="501.80" font-size="6.5" text-anchor="middle" fill="#1f4f80" stroke="#1f4f80" stroke-width="0.13" >**</text>
<line x1="56.00" y1="553.70" x2="63.60" y2="553.70" stroke="#d0203a" stroke-width="0.8" />
<circle cx="59.80" cy="553.70" r="1.20" fill="#d0203a" />
<text x="66.40" y="556.30" font-size="6.8" text-anchor="start" fill="#231f20" stroke="#231f20" stroke-width="0.13" >vec</text>
<line x1="56.00" y1="564.50" x2="63.60" y2="564.50" stroke="#1f4f80" stroke-width="0.8" />
<circle cx="59.80" cy="564.50" r="1.20" fill="#1f4f80" />
<text x="66.40" y="567.10" font-size="7.4" text-anchor="start" fill="#231f20" stroke="#231f20" stroke-width="0.13" >RBM39</text>
<line x1="56.00" y1="576.00" x2="63.60" y2="576.00" stroke="#4caf50" stroke-width="0.8" />
<circle cx="59.80" cy="576.00" r="1.20" fill="#4caf50" />
<text x="66.40" y="578.60" font-size="7.4" text-anchor="start" fill="#231f20" stroke="#231f20" stroke-width="0.13" >RBM39<tspan font-size="5.6" dy="-3.2">G268V</tspan></text>
<text x="137.20" y="435.50" font-size="11" text-anchor="start" fill="#000" font-weight="bold" >K</text>
<text x="224.80" y="436.80" font-size="9.6" text-anchor="middle" fill="#231f20" stroke="#231f20" stroke-width="0.13" >H929</text>
<line x1="148.80" y1="447.70" x2="148.80" y2="468.70" stroke="#666" stroke-width="1.2" />
<line x1="148.80" y1="477.90" x2="148.80" y2="499.30" stroke="#666" stroke-width="1.2" />
<line x1="148.80" y1="509.50" x2="148.80" y2="533.00" stroke="#666" stroke-width="1.2" />
<text x="183.50" y="454.40" font-size="8.3" text-anchor="end" fill="#231f20" stroke="#231f20" stroke-width="0.13" >DMSO</text>
<text x="183.50" y="484.00" font-size="8.3" text-anchor="end" fill="#231f20" stroke="#231f20" stroke-width="0.13" >DMSO</text>
<text x="183.50" y="514.60" font-size="8.3" text-anchor="end" fill="#231f20" stroke="#231f20" stroke-width="0.13" >DMSO</text>
<text x="183.50" y="468.70" font-size="7.5" text-anchor="end" fill="#231f20" stroke="#231f20" stroke-width="0.13" >Indisulam</text>
<text x="183.50" y="498.70" font-size="7.5" text-anchor="end" fill="#231f20" stroke="#231f20" stroke-width="0.13" >Indisulam</text>
<text x="183.50" y="528.50" font-size="7.5" text-anchor="end" fill="#231f20" stroke="#231f20" stroke-width="0.13" >Indisulam</text>
<text x="144.40" y="458.50" font-size="7.0" text-anchor="middle" fill="#231f20" stroke="#231f20" stroke-width="0.13" transform="rotate(-90 144.40 458.50)" >vec</text>
<text x="144.50" y="487.60" font-size="7.6" text-anchor="middle" fill="#231f20" stroke="#231f20" stroke-width="0.13" transform="rotate(-90 144.50 487.60)" >RBM39</text>
<text x="144.50" y="549.30" font-size="7.6" text-anchor="start" fill="#231f20" stroke="#231f20" stroke-width="0.13" transform="rotate(-90 144.50 549.30)" >RBM39<tspan font-size="5.4" dy="-3">G268V</tspan></text>
<rect x="186.00" y="441.60" width="76.70" height="98.20" fill="url(#kg)" />
<rect x="186.00" y="532.00" width="76.50" height="8.00" fill="#c2c2c4" />
<rect x="186.00" y="532.00" width="76.50" height="2.40" fill="#8c8c8e" />
<line x1="187.00" y1="535.20" x2="187.00" y2="539.60" stroke="#6a6a6a" stroke-width="0.45" />
<line x1="189.00" y1="535.20" x2="189.00" y2="538.40" stroke="#6a6a6a" stroke-width="0.45" />
<line x1="191.00" y1="535.20" x2="191.00" y2="538.40" stroke="#6a6a6a" stroke-width="0.45" />
<line x1="193.00" y1="535.20" x2="193.00" y2="538.40" stroke="#6a6a6a" stroke-width="0.45" />
<line x1="195.00" y1="535.20" x2="195.00" y2="538.40" stroke="#6a6a6a" stroke-width="0.45" />
<line x1="197.00" y1="535.20" x2="197.00" y2="539.60" stroke="#6a6a6a" stroke-width="0.45" />
<line x1="199.00" y1="535.20" x2="199.00" y2="538.40" stroke="#6a6a6a" stroke-width="0.45" />
<line x1="201.00" y1="535.20" x2="201.00" y2="538.40" stroke="#6a6a6a" stroke-width="0.45" />
<line x1="203.00" y1="535.20" x2="203.00" y2="538.40" stroke="#6a6a6a" stroke-width="0.45" />
<line x1="205.00" y1="535.20" x2="205.00" y2="538.40" stroke="#6a6a6a" stroke-width="0.45" />
<line x1="207.00" y1="535.20" x2="207.00" y2="539.60" stroke="#6a6a6a" stroke-width="0.45" />
<line x1="209.00" y1="535.20" x2="209.00" y2="538.40" stroke="#6a6a6a" stroke-width="0.45" />
<line x1="211.00" y1="535.20" x2="211.00" y2="538.40" stroke="#6a6a6a" stroke-width="0.45" />
<line x1="213.00" y1="535.20" x2="213.00" y2="538.40" stroke="#6a6a6a" stroke-width="0.45" />
<line x1="215.00" y1="535.20" x2="215.00" y2="538.40" stroke="#6a6a6a" stroke-width="0.45" />
<line x1="217.00" y1="535.20" x2="217.00" y2="539.60" stroke="#6a6a6a" stroke-width="0.45" />
<line x1="219.00" y1="535.20" x2="219.00" y2="538.40" stroke="#6a6a6a" stroke-width="0.45" />
<line x1="221.00" y1="535.20" x2="221.00" y2="538.40" stroke="#6a6a6a" stroke-width="0.45" />
<line x1="223.00" y1="535.20" x2="223.00" y2="538.40" stroke="#6a6a6a" stroke-width="0.45" />
<line x1="225.00" y1="535.20" x2="225.00" y2="538.40" stroke="#6a6a6a" stroke-width="0.45" />
<line x1="227.00" y1="535.20" x2="227.00" y2="539.60" stroke="#6a6a6a" stroke-width="0.45" />
<line x1="229.00" y1="535.20" x2="229.00" y2="538.40" stroke="#6a6a6a" stroke-width="0.45" />
<line x1="231.00" y1="535.20" x2="231.00" y2="538.40" stroke="#6a6a6a" stroke-width="0.45" />
<line x1="233.00" y1="535.20" x2="233.00" y2="538.40" stroke="#6a6a6a" stroke-width="0.45" />
<line x1="235.00" y1="535.20" x2="235.00" y2="538.40" stroke="#6a6a6a" stroke-width="0.45" />
<line x1="237.00" y1="535.20" x2="237.00" y2="539.60" stroke="#6a6a6a" stroke-width="0.45" />
<line x1="239.00" y1="535.20" x2="239.00" y2="538.40" stroke="#6a6a6a" stroke-width="0.45" />
<line x1="241.00" y1="535.20" x2="241.00" y2="538.40" stroke="#6a6a6a" stroke-width="0.45" />
<line x1="243.00" y1="535.20" x2="243.00" y2="538.40" stroke="#6a6a6a" stroke-width="0.45" />
<line x1="245.00" y1="535.20" x2="245.00" y2="538.40" stroke="#6a6a6a" stroke-width="0.45" />
<line x1="247.00" y1="535.20" x2="247.00" y2="539.60" stroke="#6a6a6a" stroke-width="0.45" />
<line x1="249.00" y1="535.20" x2="249.00" y2="538.40" stroke="#6a6a6a" stroke-width="0.45" />
<line x1="251.00" y1="535.20" x2="251.00" y2="538.40" stroke="#6a6a6a" stroke-width="0.45" />
<line x1="253.00" y1="535.20" x2="253.00" y2="538.40" stroke="#6a6a6a" stroke-width="0.45" />
<line x1="255.00" y1="535.20" x2="255.00" y2="538.40" stroke="#6a6a6a" stroke-width="0.45" />
<line x1="257.00" y1="535.20" x2="257.00" y2="539.60" stroke="#6a6a6a" stroke-width="0.45" />
<line x1="259.00" y1="535.20" x2="259.00" y2="538.40" stroke="#6a6a6a" stroke-width="0.45" />
<line x1="261.00" y1="535.20" x2="261.00" y2="538.40" stroke="#6a6a6a" stroke-width="0.45" />
<ellipse cx="195.90" cy="451.40" rx="4.75" ry="4.99" fill="url(#tum2)" filter="url(#b3)"/>
<ellipse cx="197.54" cy="452.63" rx="1.14" ry="1.33" fill="#e4bca4" opacity="0.6" filter="url(#b3)"/>
<ellipse cx="193.72" cy="453.61" rx="1.14" ry="1.33" fill="#e4bca4" opacity="0.6" filter="url(#b3)"/>
<ellipse cx="195.45" cy="452.75" rx="1.14" ry="1.33" fill="#b86c60" opacity="0.6" filter="url(#b3)"/>
<ellipse cx="209.10" cy="451.40" rx="4.60" ry="4.83" fill="url(#tum2)" filter="url(#b3)"/>
<ellipse cx="207.42" cy="453.00" rx="1.10" ry="1.29" fill="#b0685a" opacity="0.6" filter="url(#b3)"/>
<ellipse cx="207.97" cy="451.38" rx="1.10" ry="1.29" fill="#e4bca4" opacity="0.6" filter="url(#b3)"/>
<ellipse cx="208.97" cy="450.85" rx="1.10" ry="1.29" fill="#e8c8b4" opacity="0.6" filter="url(#b3)"/>
<ellipse cx="221.25" cy="451.40" rx="4.30" ry="4.51" fill="url(#tum3)" filter="url(#b3)"/>
<ellipse cx="223.21" cy="453.33" rx="1.03" ry="1.20" fill="#b0685a" opacity="0.6" filter="url(#b3)"/>
<ellipse cx="219.49" cy="450.80" rx="1.03" ry="1.20" fill="#e8c8b4" opacity="0.6" filter="url(#b3)"/>
<ellipse cx="222.26" cy="452.13" rx="1.03" ry="1.20" fill="#b86c60" opacity="0.6" filter="url(#b3)"/>
<ellipse cx="232.50" cy="451.40" rx="4.50" ry="4.73" fill="url(#tum2)" filter="url(#b3)"/>
<ellipse cx="231.32" cy="451.60" rx="1.08" ry="1.26" fill="#b86c60" opacity="0.6" filter="url(#b3)"/>
<ellipse cx="234.37" cy="451.28" rx="1.08" ry="1.26" fill="#b0685a" opacity="0.6" filter="url(#b3)"/>
<ellipse cx="232.98" cy="453.24" rx="1.08" ry="1.26" fill="#e4bca4" opacity="0.6" filter="url(#b3)"/>
<ellipse cx="243.75" cy="451.40" rx="4.50" ry="4.73" fill="url(#tum3)" filter="url(#b3)"/>
<ellipse cx="242.56" cy="449.61" rx="1.08" ry="1.26" fill="#e4bca4" opacity="0.6" filter="url(#b3)"/>
<ellipse cx="243.65" cy="449.56" rx="1.08" ry="1.26" fill="#b0685a" opacity="0.6" filter="url(#b3)"/>
<ellipse cx="243.31" cy="453.28" rx="1.08" ry="1.26" fill="#b0685a" opacity="0.6" filter="url(#b3)"/>
<ellipse cx="255.90" cy="451.40" rx="4.20" ry="4.41" fill="url(#tum2)" filter="url(#b3)"/>
<ellipse cx="256.42" cy="452.42" rx="1.01" ry="1.18" fill="#b0685a" opacity="0.6" filter="url(#b3)"/>
<ellipse cx="257.33" cy="452.56" rx="1.01" ry="1.18" fill="#e8c8b4" opacity="0.6" filter="url(#b3)"/>
<ellipse cx="256.53" cy="453.08" rx="1.01" ry="1.18" fill="#b0685a" opacity="0.6" filter="url(#b3)"/>
<ellipse cx="195.90" cy="467.00" rx="2.50" ry="2.62" fill="url(#tum2)" filter="url(#b3)"/>
<ellipse cx="209.10" cy="467.00" rx="1.80" ry="1.89" fill="url(#tum2)" filter="url(#b3)"/>
<ellipse cx="221.25" cy="467.00" rx="1.80" ry="1.89" fill="url(#tum2)" filter="url(#b3)"/>
<ellipse cx="232.50" cy="467.00" rx="2.00" ry="2.10" fill="url(#tum2)" filter="url(#b3)"/>
<ellipse cx="243.75" cy="467.00" rx="1.40" ry="1.47" fill="url(#tum2)" filter="url(#b3)"/>
<ellipse cx="255.90" cy="467.00" rx="2.10" ry="2.21" fill="url(#tum2)" filter="url(#b3)"/>
<ellipse cx="195.90" cy="481.00" rx="5.00" ry="5.25" fill="url(#tum3)" filter="url(#b3)"/>
<ellipse cx="197.93" cy="481.93" rx="1.20" ry="1.40" fill="#e8c8b4" opacity="0.6" filter="url(#b3)"/>
<ellipse cx="194.70" cy="481.68" rx="1.20" ry="1.40" fill="#b0685a" opacity="0.6" filter="url(#b3)"/>
<ellipse cx="197.76" cy="481.36" rx="1.20" ry="1.40" fill="#e8c8b4" opacity="0.6" filter="url(#b3)"/>
<ellipse cx="209.10" cy="481.00" rx="4.60" ry="4.83" fill="url(#tum2)" filter="url(#b3)"/>
<ellipse cx="207.56" cy="481.87" rx="1.10" ry="1.29" fill="#b86c60" opacity="0.6" filter="url(#b3)"/>
<ellipse cx="209.00" cy="479.69" rx="1.10" ry="1.29" fill="#e4bca4" opacity="0.6" filter="url(#b3)"/>
<ellipse cx="210.52" cy="481.06" rx="1.10" ry="1.29" fill="#e8c8b4" opacity="0.6" filter="url(#b3)"/>
<ellipse cx="221.25" cy="481.00" rx="4.50" ry="4.73" fill="url(#tum2)" filter="url(#b3)"/>
<ellipse cx="223.31" cy="479.38" rx="1.08" ry="1.26" fill="#b0685a" opacity="0.6" filter="url(#b3)"/>
<ellipse cx="221.76" cy="480.76" rx="1.08" ry="1.26" fill="#b0685a" opacity="0.6" filter="url(#b3)"/>
<ellipse cx="222.33" cy="482.70" rx="1.08" ry="1.26" fill="#b0685a" opacity="0.6" filter="url(#b3)"/>
<ellipse cx="232.50" cy="481.00" rx="4.20" ry="4.41" fill="url(#tum2)" filter="url(#b3)"/>
<ellipse cx="234.28" cy="482.88" rx="1.01" ry="1.18" fill="#b0685a" opacity="0.6" filter="url(#b3)"/>
<ellipse cx="230.47" cy="480.19" rx="1.01" ry="1.18" fill="#e4bca4" opacity="0.6" filter="url(#b3)"/>
<ellipse cx="232.63" cy="479.45" rx="1.01" ry="1.18" fill="#e8c8b4" opacity="0.6" filter="url(#b3)"/>
<ellipse cx="243.75" cy="481.00" rx="4.10" ry="4.30" fill="url(#tum2)" filter="url(#b3)"/>
<ellipse cx="244.62" cy="482.39" rx="0.98" ry="1.15" fill="#e8c8b4" opacity="0.6" filter="url(#b3)"/>
<ellipse cx="242.59" cy="479.64" rx="0.98" ry="1.15" fill="#e8c8b4" opacity="0.6" filter="url(#b3)"/>
<ellipse cx="244.45" cy="479.33" rx="0.98" ry="1.15" fill="#e8c8b4" opacity="0.6" filter="url(#b3)"/>
<ellipse cx="255.90" cy="481.00" rx="4.40" ry="4.62" fill="url(#tum2)" filter="url(#b3)"/>
<ellipse cx="255.36" cy="482.88" rx="1.06" ry="1.23" fill="#b0685a" opacity="0.6" filter="url(#b3)"/>
<ellipse cx="254.64" cy="482.64" rx="1.06" ry="1.23" fill="#e4bca4" opacity="0.6" filter="url(#b3)"/>
<ellipse cx="253.89" cy="482.99" rx="1.06" ry="1.23" fill="#b86c60" opacity="0.6" filter="url(#b3)"/>
<ellipse cx="195.90" cy="495.60" rx="3.80" ry="3.99" fill="url(#tum2)" filter="url(#b3)"/>
<ellipse cx="196.05" cy="494.80" rx="0.91" ry="1.06" fill="#b0685a" opacity="0.6" filter="url(#b3)"/>
<ellipse cx="196.36" cy="496.84" rx="0.91" ry="1.06" fill="#b86c60" opacity="0.6" filter="url(#b3)"/>
<ellipse cx="194.18" cy="495.13" rx="0.91" ry="1.06" fill="#e8c8b4" opacity="0.6" filter="url(#b3)"/>
<ellipse cx="209.10" cy="495.60" rx="3.50" ry="3.68" fill="url(#tum2)" filter="url(#b3)"/>
<ellipse cx="207.39" cy="494.24" rx="0.84" ry="0.98" fill="#e4bca4" opacity="0.6" filter="url(#b3)"/>
<ellipse cx="207.84" cy="494.00" rx="0.84" ry="0.98" fill="#b0685a" opacity="0.6" filter="url(#b3)"/>
<ellipse cx="209.22" cy="496.34" rx="0.84" ry="0.98" fill="#e8c8b4" opacity="0.6" filter="url(#b3)"/>
<ellipse cx="221.25" cy="495.60" rx="3.30" ry="3.46" fill="url(#tum2)" filter="url(#b3)"/>
<ellipse cx="219.86" cy="494.65" rx="0.79" ry="0.92" fill="#b86c60" opacity="0.6" filter="url(#b3)"/>
<ellipse cx="221.90" cy="494.73" rx="0.79" ry="0.92" fill="#b0685a" opacity="0.6" filter="url(#b3)"/>
<ellipse cx="221.98" cy="494.28" rx="0.79" ry="0.92" fill="#b86c60" opacity="0.6" filter="url(#b3)"/>
<ellipse cx="232.50" cy="495.60" rx="3.50" ry="3.68" fill="url(#tum2)" filter="url(#b3)"/>
<ellipse cx="232.75" cy="496.06" rx="0.84" ry="0.98" fill="#b86c60" opacity="0.6" filter="url(#b3)"/>
<ellipse cx="232.43" cy="496.93" rx="0.84" ry="0.98" fill="#e8c8b4" opacity="0.6" filter="url(#b3)"/>
<ellipse cx="234.18" cy="497.02" rx="0.84" ry="0.98" fill="#b86c60" opacity="0.6" filter="url(#b3)"/>
<ellipse cx="243.75" cy="495.60" rx="3.20" ry="3.36" fill="url(#tum2)" filter="url(#b3)"/>
<ellipse cx="243.84" cy="495.87" rx="0.77" ry="0.90" fill="#e8c8b4" opacity="0.6" filter="url(#b3)"/>
<ellipse cx="245.03" cy="496.82" rx="0.77" ry="0.90" fill="#b86c60" opacity="0.6" filter="url(#b3)"/>
<ellipse cx="245.20" cy="494.21" rx="0.77" ry="0.90" fill="#b86c60" opacity="0.6" filter="url(#b3)"/>
<ellipse cx="255.90" cy="495.60" rx="3.00" ry="3.15" fill="url(#tum2)" filter="url(#b3)"/>
<ellipse cx="195.90" cy="512.00" rx="5.20" ry="5.46" fill="url(#tum2)" filter="url(#b3)"/>
<ellipse cx="195.68" cy="513.96" rx="1.25" ry="1.46" fill="#b0685a" opacity="0.6" filter="url(#b3)"/>
<ellipse cx="194.58" cy="512.86" rx="1.25" ry="1.46" fill="#e8c8b4" opacity="0.6" filter="url(#b3)"/>
<ellipse cx="193.97" cy="511.21" rx="1.25" ry="1.46" fill="#e4bca4" opacity="0.6" filter="url(#b3)"/>
<ellipse cx="209.10" cy="512.00" rx="4.80" ry="5.04" fill="url(#tum2)" filter="url(#b3)"/>
<ellipse cx="208.53" cy="510.71" rx="1.15" ry="1.34" fill="#e8c8b4" opacity="0.6" filter="url(#b3)"/>
<ellipse cx="211.03" cy="511.45" rx="1.15" ry="1.34" fill="#b86c60" opacity="0.6" filter="url(#b3)"/>
<ellipse cx="209.35" cy="511.44" rx="1.15" ry="1.34" fill="#b0685a" opacity="0.6" filter="url(#b3)"/>
<ellipse cx="221.25" cy="512.00" rx="4.90" ry="5.15" fill="url(#tum2)" filter="url(#b3)"/>
<ellipse cx="221.93" cy="509.67" rx="1.18" ry="1.37" fill="#b86c60" opacity="0.6" filter="url(#b3)"/>
<ellipse cx="220.00" cy="510.23" rx="1.18" ry="1.37" fill="#b0685a" opacity="0.6" filter="url(#b3)"/>
<ellipse cx="222.12" cy="513.92" rx="1.18" ry="1.37" fill="#b0685a" opacity="0.6" filter="url(#b3)"/>
<ellipse cx="232.50" cy="512.00" rx="4.80" ry="5.04" fill="url(#tum2)" filter="url(#b3)"/>
<ellipse cx="230.29" cy="512.94" rx="1.15" ry="1.34" fill="#e8c8b4" opacity="0.6" filter="url(#b3)"/>
<ellipse cx="234.71" cy="511.38" rx="1.15" ry="1.34" fill="#b0685a" opacity="0.6" filter="url(#b3)"/>
<ellipse cx="232.28" cy="511.99" rx="1.15" ry="1.34" fill="#b0685a" opacity="0.6" filter="url(#b3)"/>
<ellipse cx="243.75" cy="512.00" rx="4.70" ry="4.94" fill="url(#tum2)" filter="url(#b3)"/>
<ellipse cx="243.32" cy="512.20" rx="1.13" ry="1.32" fill="#b0685a" opacity="0.6" filter="url(#b3)"/>
<ellipse cx="242.23" cy="510.71" rx="1.13" ry="1.32" fill="#b0685a" opacity="0.6" filter="url(#b3)"/>
<ellipse cx="242.46" cy="512.32" rx="1.13" ry="1.32" fill="#b0685a" opacity="0.6" filter="url(#b3)"/>
<ellipse cx="255.90" cy="512.00" rx="4.30" ry="4.51" fill="url(#tum2)" filter="url(#b3)"/>
<ellipse cx="254.92" cy="511.95" rx="1.03" ry="1.20" fill="#b0685a" opacity="0.6" filter="url(#b3)"/>
<ellipse cx="255.05" cy="509.94" rx="1.03" ry="1.20" fill="#e4bca4" opacity="0.6" filter="url(#b3)"/>
<ellipse cx="253.80" cy="511.07" rx="1.03" ry="1.20" fill="#b0685a" opacity="0.6" filter="url(#b3)"/>
<ellipse cx="195.90" cy="527.00" rx="4.70" ry="4.94" fill="url(#tum2)" filter="url(#b3)"/>
<ellipse cx="195.89" cy="525.90" rx="1.13" ry="1.32" fill="#e8c8b4" opacity="0.6" filter="url(#b3)"/>
<ellipse cx="196.80" cy="528.25" rx="1.13" ry="1.32" fill="#b86c60" opacity="0.6" filter="url(#b3)"/>
<ellipse cx="193.95" cy="526.14" rx="1.13" ry="1.32" fill="#b0685a" opacity="0.6" filter="url(#b3)"/>
<ellipse cx="209.10" cy="527.00" rx="4.60" ry="4.83" fill="url(#tum3)" filter="url(#b3)"/>
<ellipse cx="207.92" cy="527.01" rx="1.10" ry="1.29" fill="#e8c8b4" opacity="0.6" filter="url(#b3)"/>
<ellipse cx="207.93" cy="529.27" rx="1.10" ry="1.29" fill="#b86c60" opacity="0.6" filter="url(#b3)"/>
<ellipse cx="211.06" cy="526.53" rx="1.10" ry="1.29" fill="#e4bca4" opacity="0.6" filter="url(#b3)"/>
<ellipse cx="221.25" cy="527.00" rx="4.40" ry="4.62" fill="url(#tum2)" filter="url(#b3)"/>
<ellipse cx="223.35" cy="525.04" rx="1.06" ry="1.23" fill="#e4bca4" opacity="0.6" filter="url(#b3)"/>
<ellipse cx="222.81" cy="526.43" rx="1.06" ry="1.23" fill="#b0685a" opacity="0.6" filter="url(#b3)"/>
<ellipse cx="223.09" cy="525.50" rx="1.06" ry="1.23" fill="#e4bca4" opacity="0.6" filter="url(#b3)"/>
<ellipse cx="232.50" cy="527.00" rx="4.20" ry="4.41" fill="url(#tum3)" filter="url(#b3)"/>
<ellipse cx="232.99" cy="528.64" rx="1.01" ry="1.18" fill="#e4bca4" opacity="0.6" filter="url(#b3)"/>
<ellipse cx="232.51" cy="526.93" rx="1.01" ry="1.18" fill="#b86c60" opacity="0.6" filter="url(#b3)"/>
<ellipse cx="233.48" cy="527.96" rx="1.01" ry="1.18" fill="#b0685a" opacity="0.6" filter="url(#b3)"/>
<ellipse cx="243.75" cy="527.00" rx="4.40" ry="4.62" fill="url(#tum2)" filter="url(#b3)"/>
<ellipse cx="245.57" cy="525.40" rx="1.06" ry="1.23" fill="#b86c60" opacity="0.6" filter="url(#b3)"/>
<ellipse cx="243.68" cy="529.02" rx="1.06" ry="1.23" fill="#e4bca4" opacity="0.6" filter="url(#b3)"/>
<ellipse cx="242.51" cy="526.25" rx="1.06" ry="1.23" fill="#e4bca4" opacity="0.6" filter="url(#b3)"/>
<ellipse cx="255.90" cy="527.00" rx="4.20" ry="4.41" fill="url(#tum2)" filter="url(#b3)"/>
<ellipse cx="254.18" cy="528.89" rx="1.01" ry="1.18" fill="#e8c8b4" opacity="0.6" filter="url(#b3)"/>
<ellipse cx="258.00" cy="526.17" rx="1.01" ry="1.18" fill="#b0685a" opacity="0.6" filter="url(#b3)"/>
<ellipse cx="256.94" cy="526.17" rx="1.01" ry="1.18" fill="#b86c60" opacity="0.6" filter="url(#b3)"/>
<text x="273.80" y="435.00" font-size="11" text-anchor="start" fill="#000" font-weight="bold" >L</text>
<text x="363.75" y="436.40" font-size="9.6" text-anchor="middle" fill="#231f20" stroke="#231f20" stroke-width="0.13" >H929</text>
<line x1="313.20" y1="441.50" x2="313.20" y2="529.30" stroke="#231f20" stroke-width="1" />
<line x1="312.80" y1="528.80" x2="415.40" y2="528.80" stroke="#231f20" stroke-width="1" />
<line x1="310.40" y1="528.80" x2="313.20" y2="528.80" stroke="#231f20" stroke-width="0.8" />
<text x="307.60" y="531.50" font-size="7.8" text-anchor="end" fill="#231f20" stroke="#231f20" stroke-width="0.13" >0</text>
<line x1="310.40" y1="507.72" x2="313.20" y2="507.72" stroke="#231f20" stroke-width="0.8" />
<text x="307.60" y="510.42" font-size="7.8" text-anchor="end" fill="#231f20" stroke="#231f20" stroke-width="0.13" >500</text>
<line x1="310.40" y1="486.65" x2="313.20" y2="486.65" stroke="#231f20" stroke-width="0.8" />
<text x="307.60" y="489.35" font-size="7.8" text-anchor="end" fill="#231f20" stroke="#231f20" stroke-width="0.13" >1000</text>
<line x1="310.40" y1="465.57" x2="313.20" y2="465.57" stroke="#231f20" stroke-width="0.8" />
<text x="307.60" y="468.27" font-size="7.8" text-anchor="end" fill="#231f20" stroke="#231f20" stroke-width="0.13" >1500</text>
<line x1="310.40" y1="444.50" x2="313.20" y2="444.50" stroke="#231f20" stroke-width="0.8" />
<text x="307.60" y="447.20" font-size="7.8" text-anchor="end" fill="#231f20" stroke="#231f20" stroke-width="0.13" >2000</text>
<line x1="329.60" y1="528.80" x2="329.60" y2="531.00" stroke="#231f20" stroke-width="0.8" />
<text x="329.60" y="541.80" font-size="7.6" text-anchor="middle" fill="#231f20" stroke="#231f20" stroke-width="0.13" >1</text>
<line x1="352.70" y1="528.80" x2="352.70" y2="531.00" stroke="#231f20" stroke-width="0.8" />
<text x="352.70" y="541.80" font-size="7.6" text-anchor="middle" fill="#231f20" stroke="#231f20" stroke-width="0.13" >3</text>
<line x1="376.90" y1="528.80" x2="376.90" y2="531.00" stroke="#231f20" stroke-width="0.8" />
<text x="376.90" y="541.80" font-size="7.6" text-anchor="middle" fill="#231f20" stroke="#231f20" stroke-width="0.13" >5</text>
<line x1="400.00" y1="528.80" x2="400.00" y2="531.00" stroke="#231f20" stroke-width="0.8" />
<text x="400.00" y="541.80" font-size="7.6" text-anchor="middle" fill="#231f20" stroke="#231f20" stroke-width="0.13" >9</text>
<text x="364.30" y="554.40" font-size="9.4" text-anchor="middle" fill="#231f20" stroke="#231f20" stroke-width="0.26" textLength="13.3" lengthAdjust="spacingAndGlyphs" >Days</text>
<text x="285.00" y="484.50" font-size="8.8" text-anchor="middle" fill="#231f20" stroke="#231f20" stroke-width="0.26" textLength="60.2" lengthAdjust="spacingAndGlyphs" transform="rotate(-90 285.00 484.50)" >Tumor volume (mm³)</text>
<line x1="329.60" y1="518.68" x2="329.60" y2="513.63" stroke="#c8193c" stroke-width="0.6" stroke-dasharray="1,0.8"/>
<line x1="328.30" y1="518.68" x2="330.90" y2="518.68" stroke="#c8193c" stroke-width="0.6" />
<line x1="328.30" y1="513.63" x2="330.90" y2="513.63" stroke="#c8193c" stroke-width="0.6" />
<line x1="352.70" y1="507.72" x2="352.70" y2="497.61" stroke="#c8193c" stroke-width="0.6" stroke-dasharray="1,0.8"/>
<line x1="351.40" y1="507.72" x2="354.00" y2="507.72" stroke="#c8193c" stroke-width="0.6" />
<line x1="351.40" y1="497.61" x2="354.00" y2="497.61" stroke="#c8193c" stroke-width="0.6" />
<line x1="376.90" y1="489.60" x2="376.90" y2="476.96" stroke="#c8193c" stroke-width="0.6" stroke-dasharray="1,0.8"/>
<line x1="375.60" y1="489.60" x2="378.20" y2="489.60" stroke="#c8193c" stroke-width="0.6" />
<line x1="375.60" y1="476.96" x2="378.20" y2="476.96" stroke="#c8193c" stroke-width="0.6" />
<line x1="400.00" y1="480.75" x2="400.00" y2="463.89" stroke="#c8193c" stroke-width="0.6" stroke-dasharray="1,0.8"/>
<line x1="398.70" y1="480.75" x2="401.30" y2="480.75" stroke="#c8193c" stroke-width="0.6" />
<line x1="398.70" y1="463.89" x2="401.30" y2="463.89" stroke="#c8193c" stroke-width="0.6" />
<line x1="329.60" y1="518.26" x2="329.60" y2="514.89" stroke="#e48aa0" stroke-width="0.6" stroke-dasharray="1,0.8"/>
<line x1="328.30" y1="518.26" x2="330.90" y2="518.26" stroke="#e48aa0" stroke-width="0.6" />
<line x1="328.30" y1="514.89" x2="330.90" y2="514.89" stroke="#e48aa0" stroke-width="0.6" />
<line x1="352.70" y1="519.53" x2="352.70" y2="512.78" stroke="#e48aa0" stroke-width="0.6" stroke-dasharray="1,0.8"/>
<line x1="351.40" y1="519.53" x2="354.00" y2="519.53" stroke="#e48aa0" stroke-width="0.6" />
<line x1="351.40" y1="512.78" x2="354.00" y2="512.78" stroke="#e48aa0" stroke-width="0.6" />
<line x1="376.90" y1="522.90" x2="376.90" y2="516.15" stroke="#e48aa0" stroke-width="0.6" stroke-dasharray="1,0.8"/>
<line x1="375.60" y1="522.90" x2="378.20" y2="522.90" stroke="#e48aa0" stroke-width="0.6" />
<line x1="375.60" y1="516.15" x2="378.20" y2="516.15" stroke="#e48aa0" stroke-width="0.6" />
<line x1="400.00" y1="525.01" x2="400.00" y2="522.48" stroke="#e48aa0" stroke-width="0.6" stroke-dasharray="1,0.8"/>
<line x1="398.70" y1="525.01" x2="401.30" y2="525.01" stroke="#e48aa0" stroke-width="0.6" />
<line x1="398.70" y1="522.48" x2="401.30" y2="522.48" stroke="#e48aa0" stroke-width="0.6" />
<line x1="329.60" y1="519.53" x2="329.60" y2="513.63" stroke="#1f4f80" stroke-width="0.6" stroke-dasharray="1,0.8"/>
<line x1="328.30" y1="519.53" x2="330.90" y2="519.53" stroke="#1f4f80" stroke-width="0.6" />
<line x1="328.30" y1="513.63" x2="330.90" y2="513.63" stroke="#1f4f80" stroke-width="0.6" />
<line x1="352.70" y1="504.77" x2="352.70" y2="493.82" stroke="#1f4f80" stroke-width="0.6" stroke-dasharray="1,0.8"/>
<line x1="351.40" y1="504.77" x2="354.00" y2="504.77" stroke="#1f4f80" stroke-width="0.6" />
<line x1="351.40" y1="493.82" x2="354.00" y2="493.82" stroke="#1f4f80" stroke-width="0.6" />
<line x1="376.90" y1="490.44" x2="376.90" y2="477.80" stroke="#1f4f80" stroke-width="0.6" stroke-dasharray="1,0.8"/>
<line x1="375.60" y1="490.44" x2="378.20" y2="490.44" stroke="#1f4f80" stroke-width="0.6" />
<line x1="375.60" y1="477.80" x2="378.20" y2="477.80" stroke="#1f4f80" stroke-width="0.6" />
<line x1="400.00" y1="476.11" x2="400.00" y2="455.04" stroke="#1f4f80" stroke-width="0.6" stroke-dasharray="1,0.8"/>
<line x1="398.70" y1="476.11" x2="401.30" y2="476.11" stroke="#1f4f80" stroke-width="0.6" />
<line x1="398.70" y1="455.04" x2="401.30" y2="455.04" stroke="#1f4f80" stroke-width="0.6" />
<line x1="329.60" y1="519.11" x2="329.60" y2="514.89" stroke="#7f9ab8" stroke-width="0.6" stroke-dasharray="1,0.8"/>
<line x1="328.30" y1="519.11" x2="330.90" y2="519.11" stroke="#7f9ab8" stroke-width="0.6" />
<line x1="328.30" y1="514.89" x2="330.90" y2="514.89" stroke="#7f9ab8" stroke-width="0.6" />
<line x1="352.70" y1="519.95" x2="352.70" y2="507.30" stroke="#7f9ab8" stroke-width="0.6" stroke-dasharray="1,0.8"/>
<line x1="351.40" y1="519.95" x2="354.00" y2="519.95" stroke="#7f9ab8" stroke-width="0.6" />
<line x1="351.40" y1="507.30" x2="354.00" y2="507.30" stroke="#7f9ab8" stroke-width="0.6" />
<line x1="376.90" y1="509.41" x2="376.90" y2="500.98" stroke="#7f9ab8" stroke-width="0.6" stroke-dasharray="1,0.8"/>
<line x1="375.60" y1="509.41" x2="378.20" y2="509.41" stroke="#7f9ab8" stroke-width="0.6" />
<line x1="375.60" y1="500.98" x2="378.20" y2="500.98" stroke="#7f9ab8" stroke-width="0.6" />
<line x1="400.00" y1="508.57" x2="400.00" y2="496.77" stroke="#7f9ab8" stroke-width="0.6" stroke-dasharray="1,0.8"/>
<line x1="398.70" y1="508.57" x2="401.30" y2="508.57" stroke="#7f9ab8" stroke-width="0.6" />
<line x1="398.70" y1="496.77" x2="401.30" y2="496.77" stroke="#7f9ab8" stroke-width="0.6" />
<line x1="329.60" y1="512.78" x2="329.60" y2="508.57" stroke="#3a9a3a" stroke-width="0.6" stroke-dasharray="1,0.8"/>
<line x1="328.30" y1="512.78" x2="330.90" y2="512.78" stroke="#3a9a3a" stroke-width="0.6" />
<line x1="328.30" y1="508.57" x2="330.90" y2="508.57" stroke="#3a9a3a" stroke-width="0.6" />
<line x1="352.70" y1="504.35" x2="352.70" y2="495.92" stroke="#3a9a3a" stroke-width="0.6" stroke-dasharray="1,0.8"/>
<line x1="351.40" y1="504.35" x2="354.00" y2="504.35" stroke="#3a9a3a" stroke-width="0.6" />
<line x1="351.40" y1="495.92" x2="354.00" y2="495.92" stroke="#3a9a3a" stroke-width="0.6" />
<line x1="376.90" y1="489.18" x2="376.90" y2="479.06" stroke="#3a9a3a" stroke-width="0.6" stroke-dasharray="1,0.8"/>
<line x1="375.60" y1="489.18" x2="378.20" y2="489.18" stroke="#3a9a3a" stroke-width="0.6" />
<line x1="375.60" y1="479.06" x2="378.20" y2="479.06" stroke="#3a9a3a" stroke-width="0.6" />
<line x1="400.00" y1="473.16" x2="400.00" y2="456.30" stroke="#3a9a3a" stroke-width="0.6" stroke-dasharray="1,0.8"/>
<line x1="398.70" y1="473.16" x2="401.30" y2="473.16" stroke="#3a9a3a" stroke-width="0.6" />
<line x1="398.70" y1="456.30" x2="401.30" y2="456.30" stroke="#3a9a3a" stroke-width="0.6" />
<line x1="329.60" y1="515.73" x2="329.60" y2="510.68" stroke="#9ccc9c" stroke-width="0.6" stroke-dasharray="1,0.8"/>
<line x1="328.30" y1="515.73" x2="330.90" y2="515.73" stroke="#9ccc9c" stroke-width="0.6" />
<line x1="328.30" y1="510.68" x2="330.90" y2="510.68" stroke="#9ccc9c" stroke-width="0.6" />
<line x1="352.70" y1="510.68" x2="352.70" y2="502.25" stroke="#9ccc9c" stroke-width="0.6" stroke-dasharray="1,0.8"/>
<line x1="351.40" y1="510.68" x2="354.00" y2="510.68" stroke="#9ccc9c" stroke-width="0.6" />
<line x1="351.40" y1="502.25" x2="354.00" y2="502.25" stroke="#9ccc9c" stroke-width="0.6" />
<line x1="376.90" y1="504.77" x2="376.90" y2="491.29" stroke="#9ccc9c" stroke-width="0.6" stroke-dasharray="1,0.8"/>
<line x1="375.60" y1="504.77" x2="378.20" y2="504.77" stroke="#9ccc9c" stroke-width="0.6" />
<line x1="375.60" y1="491.29" x2="378.20" y2="491.29" stroke="#9ccc9c" stroke-width="0.6" />
<line x1="400.00" y1="494.24" x2="400.00" y2="477.38" stroke="#9ccc9c" stroke-width="0.6" stroke-dasharray="1,0.8"/>
<line x1="398.70" y1="494.24" x2="401.30" y2="494.24" stroke="#9ccc9c" stroke-width="0.6" />
<line x1="398.70" y1="477.38" x2="401.30" y2="477.38" stroke="#9ccc9c" stroke-width="0.6" />
<polyline points="329.60,516.15 352.70,502.67 376.90,483.28 400.00,472.32" fill="none" stroke="#c8193c" stroke-width="0.85" />
<circle cx="329.60" cy="516.15" r="1.20" fill="#c8193c" />
<circle cx="352.70" cy="502.67" r="1.20" fill="#c8193c" />
<circle cx="376.90" cy="483.28" r="1.20" fill="#c8193c" />
<circle cx="400.00" cy="472.32" r="1.20" fill="#c8193c" />
<polyline points="329.60,516.58 352.70,516.15 376.90,519.53 400.00,523.74" fill="none" stroke="#e48aa0" stroke-width="0.85" stroke-dasharray="2,1.5" />
<circle cx="329.60" cy="516.58" r="1.20" fill="#e48aa0" />
<circle cx="352.70" cy="516.15" r="1.20" fill="#e48aa0" />
<circle cx="376.90" cy="519.53" r="1.20" fill="#e48aa0" />
<circle cx="400.00" cy="523.74" r="1.20" fill="#e48aa0" />
<polyline points="329.60,516.58 352.70,499.29 376.90,484.12 400.00,465.57" fill="none" stroke="#1f4f80" stroke-width="0.85" />
<circle cx="329.60" cy="516.58" r="1.20" fill="#1f4f80" />
<circle cx="352.70" cy="499.29" r="1.20" fill="#1f4f80" />
<circle cx="376.90" cy="484.12" r="1.20" fill="#1f4f80" />
<circle cx="400.00" cy="465.57" r="1.20" fill="#1f4f80" />
<polyline points="329.60,517.00 352.70,513.63 376.90,505.20 400.00,502.67" fill="none" stroke="#7f9ab8" stroke-width="0.85" stroke-dasharray="2,1.5" />
<circle cx="329.60" cy="517.00" r="1.20" fill="#7f9ab8" />
<circle cx="352.70" cy="513.63" r="1.20" fill="#7f9ab8" />
<circle cx="376.90" cy="505.20" r="1.20" fill="#7f9ab8" />
<circle cx="400.00" cy="502.67" r="1.20" fill="#7f9ab8" />
<polyline points="329.60,510.68 352.70,500.14 376.90,484.12 400.00,464.73" fill="none" stroke="#3a9a3a" stroke-width="0.85" />
<circle cx="329.60" cy="510.68" r="1.20" fill="#3a9a3a" />
<circle cx="352.70" cy="500.14" r="1.20" fill="#3a9a3a" />
<circle cx="376.90" cy="484.12" r="1.20" fill="#3a9a3a" />
<circle cx="400.00" cy="464.73" r="1.20" fill="#3a9a3a" />
<polyline points="329.60,513.20 352.70,506.46 376.90,498.03 400.00,485.81" fill="none" stroke="#9ccc9c" stroke-width="0.85" stroke-dasharray="2,1.5" />
<circle cx="329.60" cy="513.20" r="1.20" fill="#9ccc9c" />
<circle cx="352.70" cy="506.46" r="1.20" fill="#9ccc9c" />
<circle cx="376.90" cy="498.03" r="1.20" fill="#9ccc9c" />
<circle cx="400.00" cy="485.81" r="1.20" fill="#9ccc9c" />
<line x1="421.7" y1="471.20" x2="429.4" y2="471.20" stroke="#c8193c" stroke-width="0.8"/>
<circle cx="425.50" cy="471.20" r="1.20" fill="#c8193c" />
<text x="431.90" y="473.80" font-size="7.2" text-anchor="start" fill="#333" stroke="#333" stroke-width="0.13" >vec-DMSO</text>
<line x1="421.7" y1="482.00" x2="429.4" y2="482.00" stroke="#e48aa0" stroke-width="0.8" stroke-dasharray="2,1.5"/>
<circle cx="425.50" cy="482.00" r="1.20" fill="#e48aa0" />
<text x="431.90" y="484.60" font-size="7.2" text-anchor="start" fill="#333" stroke="#333" stroke-width="0.13" >vec-Indisulam</text>
<line x1="421.7" y1="493.00" x2="429.4" y2="493.00" stroke="#1f4f80" stroke-width="0.8"/>
<circle cx="425.50" cy="493.00" r="1.20" fill="#1f4f80" />
<text x="431.90" y="495.60" font-size="7.2" text-anchor="start" fill="#333" stroke="#333" stroke-width="0.13" >RBM39-DMSO</text>
<line x1="421.7" y1="503.90" x2="429.4" y2="503.90" stroke="#7f9ab8" stroke-width="0.8" stroke-dasharray="2,1.5"/>
<circle cx="425.50" cy="503.90" r="1.20" fill="#7f9ab8" />
<text x="431.90" y="506.50" font-size="7.2" text-anchor="start" fill="#333" stroke="#333" stroke-width="0.13" >RBM39-Indisulam</text>
<line x1="421.7" y1="515.10" x2="429.4" y2="515.10" stroke="#3a9a3a" stroke-width="0.8"/>
<circle cx="425.50" cy="515.10" r="1.20" fill="#3a9a3a" />
<text x="431.90" y="517.70" font-size="7.2" text-anchor="start" fill="#333" stroke="#333" stroke-width="0.13" >RBM39<tspan font-size="5.2" dy="-3">G268V</tspan><tspan dy="3">-DMSO</tspan></text>
<line x1="421.7" y1="526.20" x2="429.4" y2="526.20" stroke="#9ccc9c" stroke-width="0.8" stroke-dasharray="2,1.5"/>
<circle cx="425.50" cy="526.20" r="1.20" fill="#9ccc9c" />
<text x="431.90" y="528.80" font-size="7.2" text-anchor="start" fill="#333" stroke="#333" stroke-width="0.13" >RBM39<tspan font-size="5.2" dy="-3">G268V</tspan><tspan dy="3">-Indisulam</tspan></text>
<rect x="0.00" y="0.00" width="520.00" height="1.00" fill="#606060" />
<rect x="0.00" y="586.00" width="520.00" height="1.00" fill="#606060" />
<rect x="0.00" y="0.00" width="1.00" height="587.00" fill="#606060" />
<rect x="519.00" y="0.00" width="1.00" height="587.00" fill="#606060" />
</svg>
</body></html>
